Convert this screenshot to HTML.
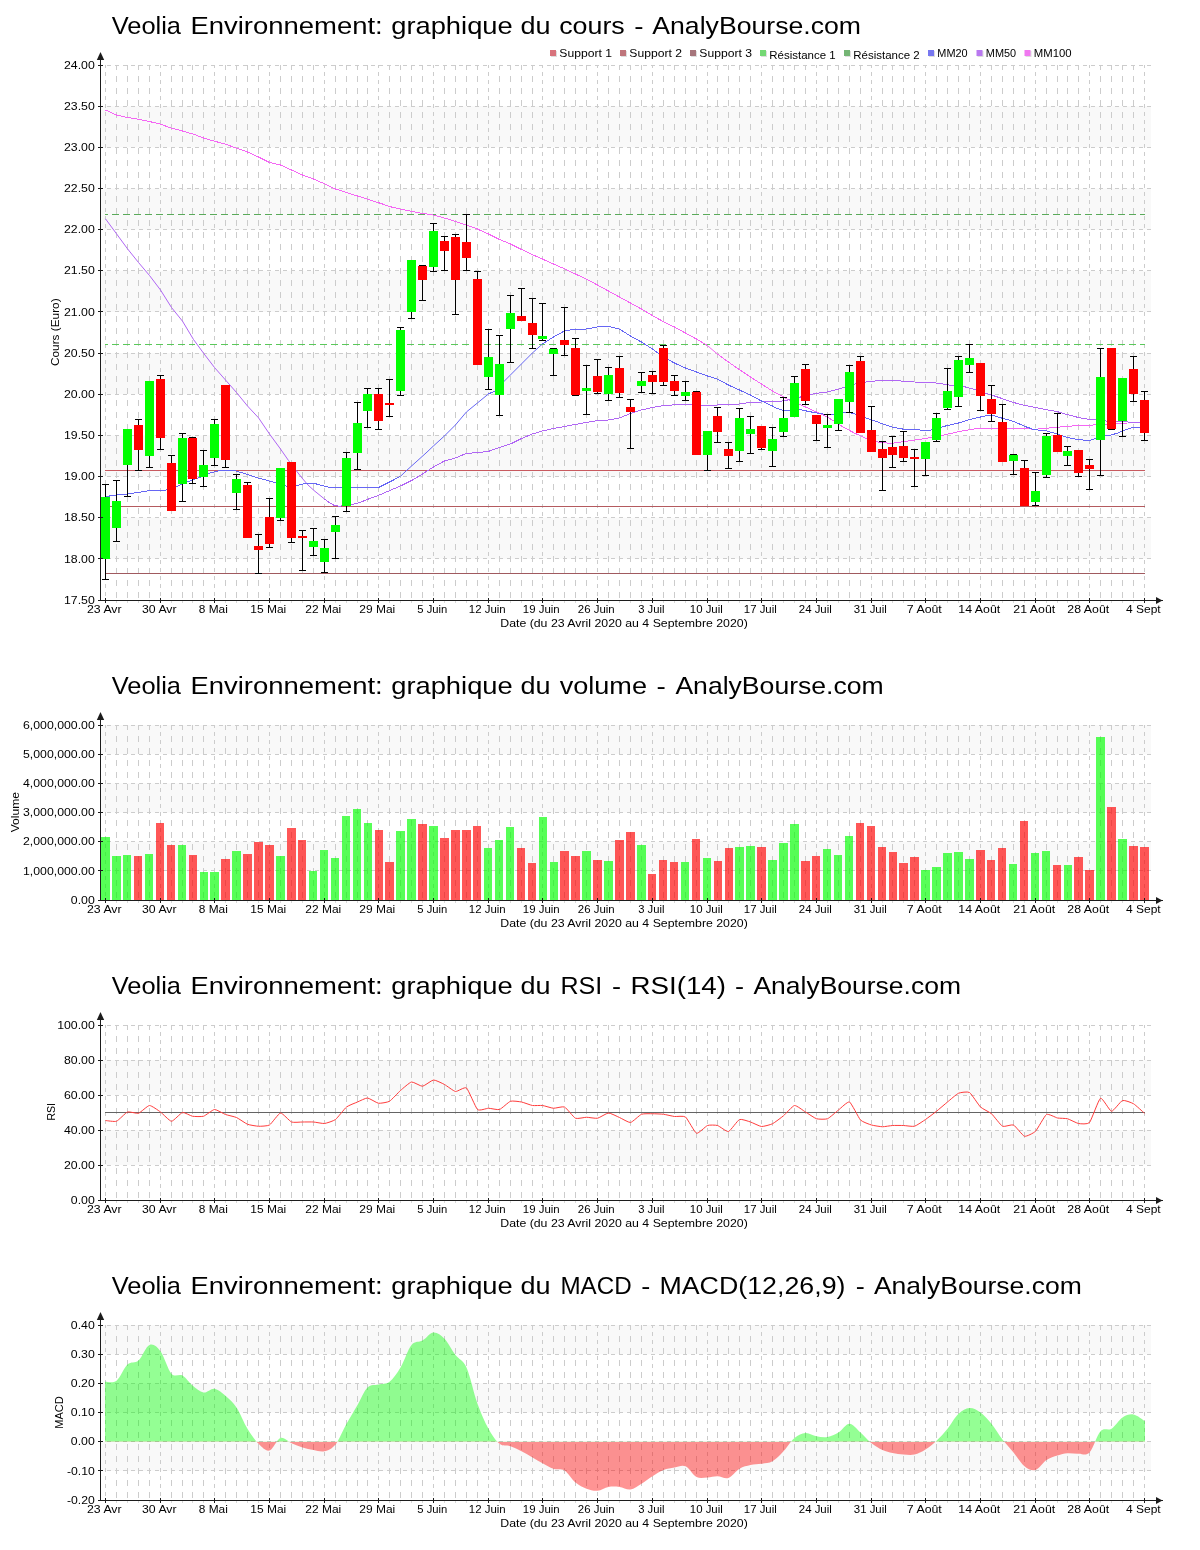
<!DOCTYPE html>
<html lang="fr"><head><meta charset="utf-8"><title>Veolia Environnement - AnalyBourse.com</title>
<style>
html,body{margin:0;padding:0;background:#fff;}
body{width:1200px;height:1550px;overflow:hidden;font-family:"Liberation Sans",sans-serif;}
svg{display:block;will-change:transform;}
</style></head><body>
<svg width="1200" height="1550" viewBox="0 0 1200 1550" font-family="Liberation Sans, sans-serif">
<rect x="0" y="0" width="1200" height="1550" fill="#ffffff"/>
<rect x="101" y="517.69" width="1050" height="41.15" fill="#f9f9f9"/>
<rect x="101" y="435.38" width="1050" height="41.15" fill="#f9f9f9"/>
<rect x="101" y="353.08" width="1050" height="41.15" fill="#f9f9f9"/>
<rect x="101" y="270.77" width="1050" height="41.15" fill="#f9f9f9"/>
<rect x="101" y="188.46" width="1050" height="41.15" fill="#f9f9f9"/>
<rect x="101" y="106.15" width="1050" height="41.15" fill="#f9f9f9"/>
<g shape-rendering="crispEdges" stroke="#cccccc" stroke-width="1" fill="none">
<line x1="107" y1="65.5" x2="1151" y2="65.5" stroke-dasharray="4 4"/>
<line x1="107" y1="106.5" x2="1151" y2="106.5" stroke-dasharray="4 4"/>
<line x1="107" y1="147.5" x2="1151" y2="147.5" stroke-dasharray="4 4"/>
<line x1="107" y1="188.5" x2="1151" y2="188.5" stroke-dasharray="4 4"/>
<line x1="107" y1="229.5" x2="1151" y2="229.5" stroke-dasharray="4 4"/>
<line x1="107" y1="270.5" x2="1151" y2="270.5" stroke-dasharray="4 4"/>
<line x1="107" y1="311.5" x2="1151" y2="311.5" stroke-dasharray="4 4"/>
<line x1="107" y1="353.5" x2="1151" y2="353.5" stroke-dasharray="4 4"/>
<line x1="107" y1="394.5" x2="1151" y2="394.5" stroke-dasharray="4 4"/>
<line x1="107" y1="435.5" x2="1151" y2="435.5" stroke-dasharray="4 4"/>
<line x1="107" y1="476.5" x2="1151" y2="476.5" stroke-dasharray="4 4"/>
<line x1="107" y1="517.5" x2="1151" y2="517.5" stroke-dasharray="4 4"/>
<line x1="107" y1="558.5" x2="1151" y2="558.5" stroke-dasharray="4 4"/>
<line x1="105.5" y1="65" x2="105.5" y2="600" stroke-dasharray="4 4" stroke-dashoffset="1"/>
<line x1="116.5" y1="65" x2="116.5" y2="600" stroke-dasharray="6 6" stroke-dashoffset="1"/>
<line x1="127.5" y1="65" x2="127.5" y2="600" stroke-dasharray="6 6" stroke-dashoffset="1"/>
<line x1="138.5" y1="65" x2="138.5" y2="600" stroke-dasharray="6 6" stroke-dashoffset="1"/>
<line x1="149.5" y1="65" x2="149.5" y2="600" stroke-dasharray="6 6" stroke-dashoffset="1"/>
<line x1="160.5" y1="65" x2="160.5" y2="600" stroke-dasharray="4 4" stroke-dashoffset="1"/>
<line x1="171.5" y1="65" x2="171.5" y2="600" stroke-dasharray="6 6" stroke-dashoffset="1"/>
<line x1="182.5" y1="65" x2="182.5" y2="600" stroke-dasharray="6 6" stroke-dashoffset="1"/>
<line x1="192.5" y1="65" x2="192.5" y2="600" stroke-dasharray="6 6" stroke-dashoffset="1"/>
<line x1="203.5" y1="65" x2="203.5" y2="600" stroke-dasharray="6 6" stroke-dashoffset="1"/>
<line x1="214.5" y1="65" x2="214.5" y2="600" stroke-dasharray="4 4" stroke-dashoffset="1"/>
<line x1="225.5" y1="65" x2="225.5" y2="600" stroke-dasharray="6 6" stroke-dashoffset="1"/>
<line x1="236.5" y1="65" x2="236.5" y2="600" stroke-dasharray="6 6" stroke-dashoffset="1"/>
<line x1="247.5" y1="65" x2="247.5" y2="600" stroke-dasharray="6 6" stroke-dashoffset="1"/>
<line x1="258.5" y1="65" x2="258.5" y2="600" stroke-dasharray="6 6" stroke-dashoffset="1"/>
<line x1="269.5" y1="65" x2="269.5" y2="600" stroke-dasharray="4 4" stroke-dashoffset="1"/>
<line x1="280.5" y1="65" x2="280.5" y2="600" stroke-dasharray="6 6" stroke-dashoffset="1"/>
<line x1="291.5" y1="65" x2="291.5" y2="600" stroke-dasharray="6 6" stroke-dashoffset="1"/>
<line x1="302.5" y1="65" x2="302.5" y2="600" stroke-dasharray="6 6" stroke-dashoffset="1"/>
<line x1="313.5" y1="65" x2="313.5" y2="600" stroke-dasharray="6 6" stroke-dashoffset="1"/>
<line x1="324.5" y1="65" x2="324.5" y2="600" stroke-dasharray="4 4" stroke-dashoffset="1"/>
<line x1="335.5" y1="65" x2="335.5" y2="600" stroke-dasharray="6 6" stroke-dashoffset="1"/>
<line x1="346.5" y1="65" x2="346.5" y2="600" stroke-dasharray="6 6" stroke-dashoffset="1"/>
<line x1="357.5" y1="65" x2="357.5" y2="600" stroke-dasharray="6 6" stroke-dashoffset="1"/>
<line x1="367.5" y1="65" x2="367.5" y2="600" stroke-dasharray="6 6" stroke-dashoffset="1"/>
<line x1="378.5" y1="65" x2="378.5" y2="600" stroke-dasharray="4 4" stroke-dashoffset="1"/>
<line x1="389.5" y1="65" x2="389.5" y2="600" stroke-dasharray="6 6" stroke-dashoffset="1"/>
<line x1="400.5" y1="65" x2="400.5" y2="600" stroke-dasharray="6 6" stroke-dashoffset="1"/>
<line x1="411.5" y1="65" x2="411.5" y2="600" stroke-dasharray="6 6" stroke-dashoffset="1"/>
<line x1="422.5" y1="65" x2="422.5" y2="600" stroke-dasharray="6 6" stroke-dashoffset="1"/>
<line x1="433.5" y1="65" x2="433.5" y2="600" stroke-dasharray="4 4" stroke-dashoffset="1"/>
<line x1="444.5" y1="65" x2="444.5" y2="600" stroke-dasharray="6 6" stroke-dashoffset="1"/>
<line x1="455.5" y1="65" x2="455.5" y2="600" stroke-dasharray="6 6" stroke-dashoffset="1"/>
<line x1="466.5" y1="65" x2="466.5" y2="600" stroke-dasharray="6 6" stroke-dashoffset="1"/>
<line x1="477.5" y1="65" x2="477.5" y2="600" stroke-dasharray="6 6" stroke-dashoffset="1"/>
<line x1="488.5" y1="65" x2="488.5" y2="600" stroke-dasharray="4 4" stroke-dashoffset="1"/>
<line x1="499.5" y1="65" x2="499.5" y2="600" stroke-dasharray="6 6" stroke-dashoffset="1"/>
<line x1="510.5" y1="65" x2="510.5" y2="600" stroke-dasharray="6 6" stroke-dashoffset="1"/>
<line x1="521.5" y1="65" x2="521.5" y2="600" stroke-dasharray="6 6" stroke-dashoffset="1"/>
<line x1="532.5" y1="65" x2="532.5" y2="600" stroke-dasharray="6 6" stroke-dashoffset="1"/>
<line x1="542.5" y1="65" x2="542.5" y2="600" stroke-dasharray="4 4" stroke-dashoffset="1"/>
<line x1="553.5" y1="65" x2="553.5" y2="600" stroke-dasharray="6 6" stroke-dashoffset="1"/>
<line x1="564.5" y1="65" x2="564.5" y2="600" stroke-dasharray="6 6" stroke-dashoffset="1"/>
<line x1="575.5" y1="65" x2="575.5" y2="600" stroke-dasharray="6 6" stroke-dashoffset="1"/>
<line x1="586.5" y1="65" x2="586.5" y2="600" stroke-dasharray="6 6" stroke-dashoffset="1"/>
<line x1="597.5" y1="65" x2="597.5" y2="600" stroke-dasharray="4 4" stroke-dashoffset="1"/>
<line x1="608.5" y1="65" x2="608.5" y2="600" stroke-dasharray="6 6" stroke-dashoffset="1"/>
<line x1="619.5" y1="65" x2="619.5" y2="600" stroke-dasharray="6 6" stroke-dashoffset="1"/>
<line x1="630.5" y1="65" x2="630.5" y2="600" stroke-dasharray="6 6" stroke-dashoffset="1"/>
<line x1="641.5" y1="65" x2="641.5" y2="600" stroke-dasharray="6 6" stroke-dashoffset="1"/>
<line x1="652.5" y1="65" x2="652.5" y2="600" stroke-dasharray="4 4" stroke-dashoffset="1"/>
<line x1="663.5" y1="65" x2="663.5" y2="600" stroke-dasharray="6 6" stroke-dashoffset="1"/>
<line x1="674.5" y1="65" x2="674.5" y2="600" stroke-dasharray="6 6" stroke-dashoffset="1"/>
<line x1="685.5" y1="65" x2="685.5" y2="600" stroke-dasharray="6 6" stroke-dashoffset="1"/>
<line x1="696.5" y1="65" x2="696.5" y2="600" stroke-dasharray="6 6" stroke-dashoffset="1"/>
<line x1="707.5" y1="65" x2="707.5" y2="600" stroke-dasharray="4 4" stroke-dashoffset="1"/>
<line x1="717.5" y1="65" x2="717.5" y2="600" stroke-dasharray="6 6" stroke-dashoffset="1"/>
<line x1="728.5" y1="65" x2="728.5" y2="600" stroke-dasharray="6 6" stroke-dashoffset="1"/>
<line x1="739.5" y1="65" x2="739.5" y2="600" stroke-dasharray="6 6" stroke-dashoffset="1"/>
<line x1="750.5" y1="65" x2="750.5" y2="600" stroke-dasharray="6 6" stroke-dashoffset="1"/>
<line x1="761.5" y1="65" x2="761.5" y2="600" stroke-dasharray="4 4" stroke-dashoffset="1"/>
<line x1="772.5" y1="65" x2="772.5" y2="600" stroke-dasharray="6 6" stroke-dashoffset="1"/>
<line x1="783.5" y1="65" x2="783.5" y2="600" stroke-dasharray="6 6" stroke-dashoffset="1"/>
<line x1="794.5" y1="65" x2="794.5" y2="600" stroke-dasharray="6 6" stroke-dashoffset="1"/>
<line x1="805.5" y1="65" x2="805.5" y2="600" stroke-dasharray="6 6" stroke-dashoffset="1"/>
<line x1="816.5" y1="65" x2="816.5" y2="600" stroke-dasharray="4 4" stroke-dashoffset="1"/>
<line x1="827.5" y1="65" x2="827.5" y2="600" stroke-dasharray="6 6" stroke-dashoffset="1"/>
<line x1="838.5" y1="65" x2="838.5" y2="600" stroke-dasharray="6 6" stroke-dashoffset="1"/>
<line x1="849.5" y1="65" x2="849.5" y2="600" stroke-dasharray="6 6" stroke-dashoffset="1"/>
<line x1="860.5" y1="65" x2="860.5" y2="600" stroke-dasharray="6 6" stroke-dashoffset="1"/>
<line x1="871.5" y1="65" x2="871.5" y2="600" stroke-dasharray="4 4" stroke-dashoffset="1"/>
<line x1="882.5" y1="65" x2="882.5" y2="600" stroke-dasharray="6 6" stroke-dashoffset="1"/>
<line x1="892.5" y1="65" x2="892.5" y2="600" stroke-dasharray="6 6" stroke-dashoffset="1"/>
<line x1="903.5" y1="65" x2="903.5" y2="600" stroke-dasharray="6 6" stroke-dashoffset="1"/>
<line x1="914.5" y1="65" x2="914.5" y2="600" stroke-dasharray="6 6" stroke-dashoffset="1"/>
<line x1="925.5" y1="65" x2="925.5" y2="600" stroke-dasharray="4 4" stroke-dashoffset="1"/>
<line x1="936.5" y1="65" x2="936.5" y2="600" stroke-dasharray="6 6" stroke-dashoffset="1"/>
<line x1="947.5" y1="65" x2="947.5" y2="600" stroke-dasharray="6 6" stroke-dashoffset="1"/>
<line x1="958.5" y1="65" x2="958.5" y2="600" stroke-dasharray="6 6" stroke-dashoffset="1"/>
<line x1="969.5" y1="65" x2="969.5" y2="600" stroke-dasharray="6 6" stroke-dashoffset="1"/>
<line x1="980.5" y1="65" x2="980.5" y2="600" stroke-dasharray="4 4" stroke-dashoffset="1"/>
<line x1="991.5" y1="65" x2="991.5" y2="600" stroke-dasharray="6 6" stroke-dashoffset="1"/>
<line x1="1002.5" y1="65" x2="1002.5" y2="600" stroke-dasharray="6 6" stroke-dashoffset="1"/>
<line x1="1013.5" y1="65" x2="1013.5" y2="600" stroke-dasharray="6 6" stroke-dashoffset="1"/>
<line x1="1024.5" y1="65" x2="1024.5" y2="600" stroke-dasharray="6 6" stroke-dashoffset="1"/>
<line x1="1035.5" y1="65" x2="1035.5" y2="600" stroke-dasharray="4 4" stroke-dashoffset="1"/>
<line x1="1046.5" y1="65" x2="1046.5" y2="600" stroke-dasharray="6 6" stroke-dashoffset="1"/>
<line x1="1057.5" y1="65" x2="1057.5" y2="600" stroke-dasharray="6 6" stroke-dashoffset="1"/>
<line x1="1067.5" y1="65" x2="1067.5" y2="600" stroke-dasharray="6 6" stroke-dashoffset="1"/>
<line x1="1078.5" y1="65" x2="1078.5" y2="600" stroke-dasharray="6 6" stroke-dashoffset="1"/>
<line x1="1089.5" y1="65" x2="1089.5" y2="600" stroke-dasharray="4 4" stroke-dashoffset="1"/>
<line x1="1100.5" y1="65" x2="1100.5" y2="600" stroke-dasharray="6 6" stroke-dashoffset="1"/>
<line x1="1111.5" y1="65" x2="1111.5" y2="600" stroke-dasharray="6 6" stroke-dashoffset="1"/>
<line x1="1122.5" y1="65" x2="1122.5" y2="600" stroke-dasharray="6 6" stroke-dashoffset="1"/>
<line x1="1133.5" y1="65" x2="1133.5" y2="600" stroke-dasharray="6 6" stroke-dashoffset="1"/>
<line x1="1144.5" y1="65" x2="1144.5" y2="600" stroke-dasharray="4 4" stroke-dashoffset="1"/>
</g>
<text x="111.70" y="33.90" font-size="24.4" fill="#000000" textLength="69.30" lengthAdjust="spacingAndGlyphs">Veolia</text>
<text x="190.40" y="33.90" font-size="24.4" fill="#000000" textLength="192.30" lengthAdjust="spacingAndGlyphs">Environnement:</text>
<text x="391.20" y="33.90" font-size="24.4" fill="#000000" textLength="121.55" lengthAdjust="spacingAndGlyphs">graphique</text>
<text x="520.45" y="33.90" font-size="24.4" fill="#000000" textLength="30.05" lengthAdjust="spacingAndGlyphs">du</text>
<text x="559.20" y="33.90" font-size="24.4" fill="#000000" textLength="65.55" lengthAdjust="spacingAndGlyphs">cours</text>
<text x="634.20" y="33.90" font-size="24.4" fill="#000000" textLength="9.30" lengthAdjust="spacingAndGlyphs">-</text>
<text x="652.30" y="33.90" font-size="24.4" fill="#000000" textLength="208.70" lengthAdjust="spacingAndGlyphs">AnalyBourse.com</text>
<text transform="translate(59.3,332.2) rotate(-90)" font-size="11" text-anchor="middle" fill="#000000" textLength="67.67" lengthAdjust="spacingAndGlyphs">Cours (Euro)</text>
<text x="94.80" y="68.70" font-size="11" text-anchor="end" fill="#000000" textLength="30.76" lengthAdjust="spacingAndGlyphs" >24.00</text>
<text x="94.80" y="109.85" font-size="11" text-anchor="end" fill="#000000" textLength="30.76" lengthAdjust="spacingAndGlyphs" >23.50</text>
<text x="94.80" y="151.01" font-size="11" text-anchor="end" fill="#000000" textLength="30.76" lengthAdjust="spacingAndGlyphs" >23.00</text>
<text x="94.80" y="192.16" font-size="11" text-anchor="end" fill="#000000" textLength="30.76" lengthAdjust="spacingAndGlyphs" >22.50</text>
<text x="94.80" y="233.32" font-size="11" text-anchor="end" fill="#000000" textLength="30.76" lengthAdjust="spacingAndGlyphs" >22.00</text>
<text x="94.80" y="274.47" font-size="11" text-anchor="end" fill="#000000" textLength="30.76" lengthAdjust="spacingAndGlyphs" >21.50</text>
<text x="94.80" y="315.62" font-size="11" text-anchor="end" fill="#000000" textLength="30.76" lengthAdjust="spacingAndGlyphs" >21.00</text>
<text x="94.80" y="356.78" font-size="11" text-anchor="end" fill="#000000" textLength="30.76" lengthAdjust="spacingAndGlyphs" >20.50</text>
<text x="94.80" y="397.93" font-size="11" text-anchor="end" fill="#000000" textLength="30.76" lengthAdjust="spacingAndGlyphs" >20.00</text>
<text x="94.80" y="439.08" font-size="11" text-anchor="end" fill="#000000" textLength="30.76" lengthAdjust="spacingAndGlyphs" >19.50</text>
<text x="94.80" y="480.24" font-size="11" text-anchor="end" fill="#000000" textLength="30.76" lengthAdjust="spacingAndGlyphs" >19.00</text>
<text x="94.80" y="521.39" font-size="11" text-anchor="end" fill="#000000" textLength="30.76" lengthAdjust="spacingAndGlyphs" >18.50</text>
<text x="94.80" y="562.55" font-size="11" text-anchor="end" fill="#000000" textLength="30.76" lengthAdjust="spacingAndGlyphs" >18.00</text>
<text x="94.80" y="603.70" font-size="11" text-anchor="end" fill="#000000" textLength="30.76" lengthAdjust="spacingAndGlyphs" >17.50</text>
<text x="104.30" y="612.80" font-size="11" text-anchor="middle" fill="#000000" textLength="34.59" lengthAdjust="spacingAndGlyphs" >23 Avr</text>
<text x="159.30" y="612.80" font-size="11" text-anchor="middle" fill="#000000" textLength="34.59" lengthAdjust="spacingAndGlyphs" >30 Avr</text>
<text x="213.30" y="612.80" font-size="11" text-anchor="middle" fill="#000000" textLength="29.07" lengthAdjust="spacingAndGlyphs" >8 Mai</text>
<text x="268.30" y="612.80" font-size="11" text-anchor="middle" fill="#000000" textLength="35.91" lengthAdjust="spacingAndGlyphs" >15 Mai</text>
<text x="323.30" y="612.80" font-size="11" text-anchor="middle" fill="#000000" textLength="35.91" lengthAdjust="spacingAndGlyphs" >22 Mai</text>
<text x="377.30" y="612.80" font-size="11" text-anchor="middle" fill="#000000" textLength="35.91" lengthAdjust="spacingAndGlyphs" >29 Mai</text>
<text x="432.30" y="612.80" font-size="11" text-anchor="middle" fill="#000000" textLength="30.00" lengthAdjust="spacingAndGlyphs" >5 Juin</text>
<text x="487.30" y="612.80" font-size="11" text-anchor="middle" fill="#000000" textLength="36.84" lengthAdjust="spacingAndGlyphs" >12 Juin</text>
<text x="541.30" y="612.80" font-size="11" text-anchor="middle" fill="#000000" textLength="36.84" lengthAdjust="spacingAndGlyphs" >19 Juin</text>
<text x="596.30" y="612.80" font-size="11" text-anchor="middle" fill="#000000" textLength="36.84" lengthAdjust="spacingAndGlyphs" >26 Juin</text>
<text x="651.30" y="612.80" font-size="11" text-anchor="middle" fill="#000000" textLength="26.18" lengthAdjust="spacingAndGlyphs" >3 Juil</text>
<text x="706.30" y="612.80" font-size="11" text-anchor="middle" fill="#000000" textLength="33.01" lengthAdjust="spacingAndGlyphs" >10 Juil</text>
<text x="760.30" y="612.80" font-size="11" text-anchor="middle" fill="#000000" textLength="33.01" lengthAdjust="spacingAndGlyphs" >17 Juil</text>
<text x="815.30" y="612.80" font-size="11" text-anchor="middle" fill="#000000" textLength="33.01" lengthAdjust="spacingAndGlyphs" >24 Juil</text>
<text x="870.30" y="612.80" font-size="11" text-anchor="middle" fill="#000000" textLength="33.01" lengthAdjust="spacingAndGlyphs" >31 Juil</text>
<text x="924.30" y="612.80" font-size="11" text-anchor="middle" fill="#000000" textLength="35.00" lengthAdjust="spacingAndGlyphs" >7 Août</text>
<text x="979.30" y="612.80" font-size="11" text-anchor="middle" fill="#000000" textLength="41.83" lengthAdjust="spacingAndGlyphs" >14 Août</text>
<text x="1034.30" y="612.80" font-size="11" text-anchor="middle" fill="#000000" textLength="41.83" lengthAdjust="spacingAndGlyphs" >21 Août</text>
<text x="1088.30" y="612.80" font-size="11" text-anchor="middle" fill="#000000" textLength="41.83" lengthAdjust="spacingAndGlyphs" >28 Août</text>
<text x="1143.30" y="612.80" font-size="11" text-anchor="middle" fill="#000000" textLength="34.71" lengthAdjust="spacingAndGlyphs" >4 Sept</text>
<text x="624.00" y="626.80" font-size="11" text-anchor="middle" fill="#000000" textLength="247.50" lengthAdjust="spacingAndGlyphs" >Date (du 23 Avril 2020 au 4 Septembre 2020)</text>
<rect x="551.0" y="51" width="6" height="6" fill="#dedede"/>
<rect x="550.0" y="50" width="6" height="6" fill="#d8737c"/>
<text x="559.30" y="57.00" font-size="11" text-anchor="start" fill="#000000" textLength="52.70" lengthAdjust="spacingAndGlyphs" >Support 1</text>
<rect x="621.0" y="51" width="6" height="6" fill="#dedede"/>
<rect x="620.0" y="50" width="6" height="6" fill="#bf757b"/>
<text x="629.30" y="57.00" font-size="11" text-anchor="start" fill="#000000" textLength="52.70" lengthAdjust="spacingAndGlyphs" >Support 2</text>
<rect x="691.0" y="51" width="6" height="6" fill="#dedede"/>
<rect x="690.0" y="50" width="6" height="6" fill="#a6757b"/>
<text x="699.30" y="57.00" font-size="11" text-anchor="start" fill="#000000" textLength="52.70" lengthAdjust="spacingAndGlyphs" >Support 3</text>
<rect x="761.0" y="51" width="6" height="6" fill="#dedede"/>
<rect x="760.0" y="50" width="6" height="6" fill="#74d874"/>
<text x="769.30" y="58.50" font-size="11" text-anchor="start" fill="#000000" textLength="66.30" lengthAdjust="spacingAndGlyphs" >Résistance 1</text>
<rect x="845.0" y="51" width="6" height="6" fill="#dedede"/>
<rect x="844.0" y="50" width="6" height="6" fill="#74b574"/>
<text x="853.30" y="58.50" font-size="11" text-anchor="start" fill="#000000" textLength="66.30" lengthAdjust="spacingAndGlyphs" >Résistance 2</text>
<rect x="929.0" y="51" width="6" height="6" fill="#dedede"/>
<rect x="928.0" y="50" width="6" height="6" fill="#7878f0"/>
<text x="937.30" y="57.00" font-size="11" text-anchor="start" fill="#000000" textLength="30.30" lengthAdjust="spacingAndGlyphs" >MM20</text>
<rect x="977.5" y="51" width="6" height="6" fill="#dedede"/>
<rect x="976.5" y="50" width="6" height="6" fill="#b978f0"/>
<text x="985.80" y="57.00" font-size="11" text-anchor="start" fill="#000000" textLength="30.30" lengthAdjust="spacingAndGlyphs" >MM50</text>
<rect x="1025.5" y="51" width="6" height="6" fill="#dedede"/>
<rect x="1024.5" y="50" width="6" height="6" fill="#f078f0"/>
<text x="1033.80" y="57.00" font-size="11" text-anchor="start" fill="#000000" textLength="37.80" lengthAdjust="spacingAndGlyphs" >MM100</text>
<g shape-rendering="crispEdges" stroke-width="1" fill="none">
<line x1="105" y1="470.5" x2="1145" y2="470.5" stroke="#c85a5f"/>
<line x1="105" y1="506.5" x2="1145" y2="506.5" stroke="#b45a5f"/>
<line x1="105" y1="573.5" x2="1145" y2="573.5" stroke="#a05a5f"/>
<line x1="105" y1="214.5" x2="1145" y2="214.5" stroke="#5aaa5a" stroke-dasharray="6.937 4" stroke-dashoffset="3.937"/>
<line x1="105" y1="344.5" x2="1145" y2="344.5" stroke="#5ac85a" stroke-dasharray="6.937 4" stroke-dashoffset="3.937"/>
</g>
<polyline fill="none" stroke="#f466f4" stroke-width="1.0" stroke-linejoin="round" shape-rendering="crispEdges" points="105.5,110.0 116.5,115.0 127.5,117.5 138.5,119.2 149.5,121.5 160.5,124.2 171.5,128.2 182.5,131.0 193.5,134.2 204.0,138.2 214.5,141.2 225.5,144.2 236.5,148.2 247.5,152.0 258.5,157.0 269.5,162.5 280.5,165.0 291.5,170.0 302.5,175.0 313.5,179.0 324.5,183.8 335.5,189.0 346.5,192.5 357.5,196.0 368.5,199.5 379.5,203.0 390.5,206.8 400.4,209.0 411.4,211.2 422.4,213.4 433.4,215.0 444.4,218.0 455.4,221.4 466.4,225.0 477.4,229.0 488.4,234.0 499.4,239.4 510.4,244.0 521.4,249.4 532.4,254.6 542.4,259.0 553.4,264.0 564.0,268.6 575.4,274.0 588.0,280.0 597.4,285.0 608.4,291.0 619.4,297.0 630.4,303.0 641.4,309.0 652.4,315.6 663.4,321.6 674.4,327.0 685.4,333.0 696.4,339.0 707.4,345.6"/>
<polyline fill="none" stroke="#f466f4" stroke-width="1.0" stroke-linejoin="round"  points="707.4,345.6 717.4,354.0"/>
<polyline fill="none" stroke="#f466f4" stroke-width="1.0" stroke-linejoin="round" shape-rendering="crispEdges" points="717.4,354.0 728.4,362.0 739.4,369.6 750.4,377.0 761.4,384.0 772.4,391.0 783.3,396.7 788.5,399.7 799.3,404.2 805.5,407.0 816.5,412.0 827.3,417.0 833.5,420.8 842.7,426.7 849.3,430.3 854.3,433.0 866.0,438.3 877.7,442.0 882.3,442.7 892.3,443.3 897.7,442.5 909.3,440.8 917.7,439.7 931.0,437.5 942.7,435.3 947.5,434.2 958.5,431.7 969.3,429.7 976.0,428.7 986.0,428.7 1002.5,428.3 1024.5,428.7 1035.5,429.2 1046.5,428.3 1057.5,427.2 1067.5,426.3 1078.5,425.5 1089.5,425.3 1096.0,424.7 1116.8,423.7 1127.7,423.0 1139.3,422.5 1144.5,422.3"/>
<polyline fill="none" stroke="#b066f4" stroke-width="1.0" stroke-linejoin="round"  points="105.5,218.8 116.5,233.8 127.5,248.8 138.5,262.5 149.5,275.5 160.5,290.0 171.5,307.5 182.5,321.2 193.5,339.5 204.0,353.8 214.5,367.5 225.5,380.0 236.5,392.5 247.5,406.0 258.5,417.8 269.5,434.0 280.5,449.0 288.5,460.5 296.5,471.0 302.0,478.0 308.0,485.0 314.0,490.5 324.5,499.0"/>
<polyline fill="none" stroke="#b066f4" stroke-width="1.0" stroke-linejoin="round" shape-rendering="crispEdges" points="324.5,499.0 330.0,503.0 335.0,505.8 340.0,506.2 352.0,504.5 360.0,502.5 366.8,499.6 378.5,495.4 389.4,490.7 400.4,486.0 411.4,480.6 422.4,474.0 433.4,467.0 444.4,461.0 455.4,458.0 466.4,453.4 477.4,452.6 488.4,451.4 499.4,447.4 510.4,444.0 521.4,438.6 532.4,434.0 542.4,431.0 553.4,428.4 564.0,426.6 575.4,424.4 586.4,422.4 597.4,420.6 608.4,420.0 619.4,418.0 630.4,413.6 641.4,410.0 652.4,407.4 663.4,405.6 674.4,404.8 685.4,404.4 696.4,404.6 707.4,405.6 717.4,405.0 728.4,404.6 739.4,404.0 750.4,402.4 761.4,402.0 772.4,401.6 776.0,402.0 783.3,400.8 789.3,399.7 810.2,394.7 816.5,393.3 827.3,392.0 838.3,389.2 844.3,387.2 854.3,384.2 866.0,382.0 871.3,381.3 882.3,380.3 892.3,380.3 903.5,381.2 914.3,382.0 925.5,382.2 936.3,383.0 947.5,384.7 952.7,385.8 964.3,386.7 969.3,388.0 976.0,389.7 986.0,393.3 991.5,395.0 1002.5,398.7 1013.5,402.5 1024.5,405.3 1035.5,407.5 1046.5,409.7 1057.5,411.7 1067.5,414.7 1078.5,417.5 1089.5,419.5 1096.0,420.0 1106.0,421.0 1116.8,421.7 1127.7,422.0 1139.3,422.0 1144.5,422.0"/>
<polyline fill="none" stroke="#6666f4" stroke-width="1.0" stroke-linejoin="round" shape-rendering="crispEdges" points="105.4,496.6 116.4,495.0 127.4,494.0 138.4,492.4 149.4,490.6 166.0,490.0 176.0,487.0 182.4,484.0 192.4,480.0 203.4,476.0 210.0,473.0 218.0,471.0 226.0,470.2 236.0,471.0 247.4,474.4 258.4,478.0 269.4,481.0 276.0,483.0 286.0,486.0 296.0,486.0 301.8,484.2 307.7,483.3 314.3,483.3 321.0,485.4 330.2,487.5 341.0,487.7 352.7,487.5 378.5,487.5 387.7,482.9 392.7,480.4 400.4,476.4"/>
<polyline fill="none" stroke="#6666f4" stroke-width="1.0" stroke-linejoin="round"  points="400.4,476.4 406.0,471.0 426.0,453.0 433.4,446.0 444.4,436.0 455.4,425.0 466.4,412.0 477.4,403.0 488.4,394.0"/>
<polyline fill="none" stroke="#6666f4" stroke-width="1.0" stroke-linejoin="round" shape-rendering="crispEdges" points="488.4,394.0 495.0,391.0"/>
<polyline fill="none" stroke="#6666f4" stroke-width="1.0" stroke-linejoin="round"  points="495.0,391.0 499.4,386.0 510.4,375.0 521.4,364.0 532.4,353.0 542.4,344.0"/>
<polyline fill="none" stroke="#6666f4" stroke-width="1.0" stroke-linejoin="round" shape-rendering="crispEdges" points="542.4,344.0 553.4,337.0 564.4,331.0 575.4,329.0 586.4,329.0 597.4,327.0 608.4,326.4 619.4,329.0 630.4,336.0 641.4,342.0 652.4,349.0 663.4,357.0 674.4,363.0 685.4,368.0 696.4,372.0 707.4,376.0 717.4,379.0 728.4,385.0 739.4,390.0 750.4,395.0 761.4,401.0 772.4,406.0 776.0,408.0 783.3,410.5 788.0,410.5 799.3,409.2 805.5,410.8 816.5,413.0 827.3,414.7 832.7,414.7 844.3,412.5 849.3,412.5 854.3,413.7 866.0,418.0 871.3,419.7 882.3,423.7 892.3,427.0 903.5,429.2 914.3,429.7 925.5,430.3 931.0,430.0 942.7,426.7 947.5,425.5 958.5,423.0 969.3,419.7 976.0,418.0 986.0,415.8 991.5,415.0 1002.5,418.3 1013.5,421.3 1024.5,426.3 1034.3,429.7 1046.5,430.8 1057.5,434.2 1067.5,437.5 1078.5,439.7 1089.5,440.5 1095.2,438.7 1106.0,435.8 1111.5,435.0 1117.7,433.0 1122.5,430.8 1132.7,427.5 1139.3,427.5 1144.5,427.5"/>
<g shape-rendering="crispEdges">
<rect x="105" y="484" width="1" height="13" fill="#000"/>
<rect x="102" y="484" width="7" height="1" fill="#000"/>
<rect x="105" y="559" width="1" height="21" fill="#000"/>
<rect x="102" y="579" width="7" height="1" fill="#000"/>
<rect x="101" y="497" width="9" height="62" fill="#00ff00"/>
<rect x="116" y="480" width="1" height="21" fill="#000"/>
<rect x="113" y="480" width="7" height="1" fill="#000"/>
<rect x="116" y="528" width="1" height="14" fill="#000"/>
<rect x="113" y="541" width="7" height="1" fill="#000"/>
<rect x="112" y="501" width="9" height="27" fill="#00ff00"/>
<rect x="127" y="465" width="1" height="32" fill="#000"/>
<rect x="124" y="496" width="7" height="1" fill="#000"/>
<rect x="123" y="429" width="9" height="36" fill="#00ff00"/>
<rect x="138" y="419" width="1" height="6" fill="#000"/>
<rect x="135" y="419" width="7" height="1" fill="#000"/>
<rect x="138" y="450" width="1" height="21" fill="#000"/>
<rect x="135" y="470" width="7" height="1" fill="#000"/>
<rect x="134" y="425" width="9" height="25" fill="#ff0000"/>
<rect x="149" y="456" width="1" height="12" fill="#000"/>
<rect x="146" y="467" width="7" height="1" fill="#000"/>
<rect x="145" y="381" width="9" height="75" fill="#00ff00"/>
<rect x="160" y="375" width="1" height="4" fill="#000"/>
<rect x="157" y="375" width="7" height="1" fill="#000"/>
<rect x="160" y="438" width="1" height="12" fill="#000"/>
<rect x="157" y="449" width="7" height="1" fill="#000"/>
<rect x="156" y="379" width="9" height="59" fill="#ff0000"/>
<rect x="171" y="455" width="1" height="8" fill="#000"/>
<rect x="168" y="455" width="7" height="1" fill="#000"/>
<rect x="167" y="463" width="9" height="48" fill="#ff0000"/>
<rect x="182" y="433" width="1" height="5" fill="#000"/>
<rect x="179" y="433" width="7" height="1" fill="#000"/>
<rect x="182" y="484" width="1" height="18" fill="#000"/>
<rect x="179" y="501" width="7" height="1" fill="#000"/>
<rect x="178" y="438" width="9" height="46" fill="#00ff00"/>
<rect x="192" y="437" width="1" height="1" fill="#000"/>
<rect x="189" y="437" width="7" height="1" fill="#000"/>
<rect x="192" y="479" width="1" height="5" fill="#000"/>
<rect x="189" y="483" width="7" height="1" fill="#000"/>
<rect x="188" y="438" width="9" height="41" fill="#ff0000"/>
<rect x="203" y="450" width="1" height="15" fill="#000"/>
<rect x="200" y="450" width="7" height="1" fill="#000"/>
<rect x="203" y="477" width="1" height="10" fill="#000"/>
<rect x="200" y="486" width="7" height="1" fill="#000"/>
<rect x="199" y="465" width="9" height="12" fill="#00ff00"/>
<rect x="214" y="419" width="1" height="5" fill="#000"/>
<rect x="211" y="419" width="7" height="1" fill="#000"/>
<rect x="214" y="458" width="1" height="8" fill="#000"/>
<rect x="211" y="465" width="7" height="1" fill="#000"/>
<rect x="210" y="424" width="9" height="34" fill="#00ff00"/>
<rect x="225" y="460" width="1" height="8" fill="#000"/>
<rect x="222" y="467" width="7" height="1" fill="#000"/>
<rect x="221" y="385" width="9" height="75" fill="#ff0000"/>
<rect x="236" y="474" width="1" height="5" fill="#000"/>
<rect x="233" y="474" width="7" height="1" fill="#000"/>
<rect x="236" y="493" width="1" height="17" fill="#000"/>
<rect x="233" y="509" width="7" height="1" fill="#000"/>
<rect x="232" y="479" width="9" height="14" fill="#00ff00"/>
<rect x="247" y="482" width="1" height="3" fill="#000"/>
<rect x="244" y="482" width="7" height="1" fill="#000"/>
<rect x="243" y="485" width="9" height="53" fill="#ff0000"/>
<rect x="258" y="534" width="1" height="12" fill="#000"/>
<rect x="255" y="534" width="7" height="1" fill="#000"/>
<rect x="258" y="550" width="1" height="24" fill="#000"/>
<rect x="255" y="573" width="7" height="1" fill="#000"/>
<rect x="254" y="546" width="9" height="4" fill="#ff0000"/>
<rect x="269" y="498" width="1" height="19" fill="#000"/>
<rect x="266" y="498" width="7" height="1" fill="#000"/>
<rect x="269" y="544" width="1" height="4" fill="#000"/>
<rect x="266" y="547" width="7" height="1" fill="#000"/>
<rect x="265" y="517" width="9" height="27" fill="#ff0000"/>
<rect x="280" y="518" width="1" height="3" fill="#000"/>
<rect x="277" y="520" width="7" height="1" fill="#000"/>
<rect x="276" y="468" width="9" height="50" fill="#00ff00"/>
<rect x="291" y="538" width="1" height="5" fill="#000"/>
<rect x="288" y="542" width="7" height="1" fill="#000"/>
<rect x="287" y="462" width="9" height="76" fill="#ff0000"/>
<rect x="302" y="530" width="1" height="6" fill="#000"/>
<rect x="299" y="530" width="7" height="1" fill="#000"/>
<rect x="302" y="538" width="1" height="33" fill="#000"/>
<rect x="299" y="570" width="7" height="1" fill="#000"/>
<rect x="298" y="536" width="9" height="2" fill="#ff0000"/>
<rect x="313" y="528" width="1" height="13" fill="#000"/>
<rect x="310" y="528" width="7" height="1" fill="#000"/>
<rect x="313" y="547" width="1" height="9" fill="#000"/>
<rect x="310" y="555" width="7" height="1" fill="#000"/>
<rect x="309" y="541" width="9" height="6" fill="#00ff00"/>
<rect x="324" y="539" width="1" height="9" fill="#000"/>
<rect x="321" y="539" width="7" height="1" fill="#000"/>
<rect x="324" y="562" width="1" height="11" fill="#000"/>
<rect x="321" y="572" width="7" height="1" fill="#000"/>
<rect x="320" y="548" width="9" height="14" fill="#00ff00"/>
<rect x="335" y="516" width="1" height="9" fill="#000"/>
<rect x="332" y="516" width="7" height="1" fill="#000"/>
<rect x="335" y="532" width="1" height="27" fill="#000"/>
<rect x="332" y="558" width="7" height="1" fill="#000"/>
<rect x="331" y="525" width="9" height="7" fill="#00ff00"/>
<rect x="346" y="452" width="1" height="6" fill="#000"/>
<rect x="343" y="452" width="7" height="1" fill="#000"/>
<rect x="346" y="506" width="1" height="6" fill="#000"/>
<rect x="343" y="511" width="7" height="1" fill="#000"/>
<rect x="342" y="458" width="9" height="48" fill="#00ff00"/>
<rect x="357" y="402" width="1" height="21" fill="#000"/>
<rect x="354" y="402" width="7" height="1" fill="#000"/>
<rect x="357" y="453" width="1" height="17" fill="#000"/>
<rect x="354" y="469" width="7" height="1" fill="#000"/>
<rect x="353" y="423" width="9" height="30" fill="#00ff00"/>
<rect x="367" y="388" width="1" height="6" fill="#000"/>
<rect x="364" y="388" width="7" height="1" fill="#000"/>
<rect x="367" y="411" width="1" height="17" fill="#000"/>
<rect x="364" y="427" width="7" height="1" fill="#000"/>
<rect x="363" y="394" width="9" height="17" fill="#00ff00"/>
<rect x="378" y="388" width="1" height="6" fill="#000"/>
<rect x="375" y="388" width="7" height="1" fill="#000"/>
<rect x="378" y="421" width="1" height="9" fill="#000"/>
<rect x="375" y="429" width="7" height="1" fill="#000"/>
<rect x="374" y="394" width="9" height="27" fill="#ff0000"/>
<rect x="389" y="379" width="1" height="24" fill="#000"/>
<rect x="386" y="379" width="7" height="1" fill="#000"/>
<rect x="389" y="405" width="1" height="12" fill="#000"/>
<rect x="386" y="416" width="7" height="1" fill="#000"/>
<rect x="385" y="403" width="9" height="2" fill="#ff0000"/>
<rect x="400" y="327" width="1" height="3" fill="#000"/>
<rect x="397" y="327" width="7" height="1" fill="#000"/>
<rect x="400" y="391" width="1" height="5" fill="#000"/>
<rect x="397" y="395" width="7" height="1" fill="#000"/>
<rect x="396" y="330" width="9" height="61" fill="#00ff00"/>
<rect x="411" y="312" width="1" height="7" fill="#000"/>
<rect x="408" y="318" width="7" height="1" fill="#000"/>
<rect x="407" y="260" width="9" height="52" fill="#00ff00"/>
<rect x="422" y="265" width="1" height="1" fill="#000"/>
<rect x="419" y="265" width="7" height="1" fill="#000"/>
<rect x="422" y="280" width="1" height="21" fill="#000"/>
<rect x="419" y="300" width="7" height="1" fill="#000"/>
<rect x="418" y="266" width="9" height="14" fill="#ff0000"/>
<rect x="433" y="223" width="1" height="8" fill="#000"/>
<rect x="430" y="223" width="7" height="1" fill="#000"/>
<rect x="433" y="267" width="1" height="5" fill="#000"/>
<rect x="430" y="271" width="7" height="1" fill="#000"/>
<rect x="429" y="231" width="9" height="36" fill="#00ff00"/>
<rect x="444" y="236" width="1" height="5" fill="#000"/>
<rect x="441" y="236" width="7" height="1" fill="#000"/>
<rect x="444" y="251" width="1" height="20" fill="#000"/>
<rect x="441" y="270" width="7" height="1" fill="#000"/>
<rect x="440" y="241" width="9" height="10" fill="#ff0000"/>
<rect x="455" y="234" width="1" height="3" fill="#000"/>
<rect x="452" y="234" width="7" height="1" fill="#000"/>
<rect x="455" y="280" width="1" height="35" fill="#000"/>
<rect x="452" y="314" width="7" height="1" fill="#000"/>
<rect x="451" y="237" width="9" height="43" fill="#ff0000"/>
<rect x="466" y="214" width="1" height="28" fill="#000"/>
<rect x="463" y="214" width="7" height="1" fill="#000"/>
<rect x="466" y="258" width="1" height="13" fill="#000"/>
<rect x="463" y="270" width="7" height="1" fill="#000"/>
<rect x="462" y="242" width="9" height="16" fill="#ff0000"/>
<rect x="477" y="271" width="1" height="8" fill="#000"/>
<rect x="474" y="271" width="7" height="1" fill="#000"/>
<rect x="473" y="279" width="9" height="86" fill="#ff0000"/>
<rect x="488" y="329" width="1" height="28" fill="#000"/>
<rect x="485" y="329" width="7" height="1" fill="#000"/>
<rect x="488" y="377" width="1" height="13" fill="#000"/>
<rect x="485" y="389" width="7" height="1" fill="#000"/>
<rect x="484" y="357" width="9" height="20" fill="#00ff00"/>
<rect x="499" y="335" width="1" height="29" fill="#000"/>
<rect x="496" y="335" width="7" height="1" fill="#000"/>
<rect x="499" y="395" width="1" height="21" fill="#000"/>
<rect x="496" y="415" width="7" height="1" fill="#000"/>
<rect x="495" y="364" width="9" height="31" fill="#00ff00"/>
<rect x="510" y="295" width="1" height="18" fill="#000"/>
<rect x="507" y="295" width="7" height="1" fill="#000"/>
<rect x="510" y="329" width="1" height="34" fill="#000"/>
<rect x="507" y="362" width="7" height="1" fill="#000"/>
<rect x="506" y="313" width="9" height="16" fill="#00ff00"/>
<rect x="521" y="288" width="1" height="28" fill="#000"/>
<rect x="518" y="288" width="7" height="1" fill="#000"/>
<rect x="517" y="316" width="9" height="5" fill="#ff0000"/>
<rect x="532" y="298" width="1" height="25" fill="#000"/>
<rect x="529" y="298" width="7" height="1" fill="#000"/>
<rect x="532" y="335" width="1" height="14" fill="#000"/>
<rect x="529" y="348" width="7" height="1" fill="#000"/>
<rect x="528" y="323" width="9" height="12" fill="#ff0000"/>
<rect x="542" y="303" width="1" height="33" fill="#000"/>
<rect x="539" y="303" width="7" height="1" fill="#000"/>
<rect x="542" y="339" width="1" height="2" fill="#000"/>
<rect x="539" y="340" width="7" height="1" fill="#000"/>
<rect x="538" y="336" width="9" height="3" fill="#00ff00"/>
<rect x="553" y="348" width="1" height="1" fill="#000"/>
<rect x="550" y="348" width="7" height="1" fill="#000"/>
<rect x="553" y="354" width="1" height="22" fill="#000"/>
<rect x="550" y="375" width="7" height="1" fill="#000"/>
<rect x="549" y="349" width="9" height="5" fill="#00ff00"/>
<rect x="564" y="307" width="1" height="33" fill="#000"/>
<rect x="561" y="307" width="7" height="1" fill="#000"/>
<rect x="564" y="345" width="1" height="11" fill="#000"/>
<rect x="561" y="355" width="7" height="1" fill="#000"/>
<rect x="560" y="340" width="9" height="5" fill="#ff0000"/>
<rect x="575" y="338" width="1" height="10" fill="#000"/>
<rect x="572" y="338" width="7" height="1" fill="#000"/>
<rect x="575" y="395" width="1" height="1" fill="#000"/>
<rect x="572" y="395" width="7" height="1" fill="#000"/>
<rect x="571" y="348" width="9" height="47" fill="#ff0000"/>
<rect x="586" y="365" width="1" height="23" fill="#000"/>
<rect x="583" y="365" width="7" height="1" fill="#000"/>
<rect x="586" y="391" width="1" height="24" fill="#000"/>
<rect x="583" y="414" width="7" height="1" fill="#000"/>
<rect x="582" y="388" width="9" height="3" fill="#00ff00"/>
<rect x="597" y="359" width="1" height="17" fill="#000"/>
<rect x="594" y="359" width="7" height="1" fill="#000"/>
<rect x="597" y="392" width="1" height="2" fill="#000"/>
<rect x="594" y="393" width="7" height="1" fill="#000"/>
<rect x="593" y="376" width="9" height="16" fill="#ff0000"/>
<rect x="608" y="367" width="1" height="8" fill="#000"/>
<rect x="605" y="367" width="7" height="1" fill="#000"/>
<rect x="608" y="394" width="1" height="7" fill="#000"/>
<rect x="605" y="400" width="7" height="1" fill="#000"/>
<rect x="604" y="375" width="9" height="19" fill="#00ff00"/>
<rect x="619" y="356" width="1" height="12" fill="#000"/>
<rect x="616" y="356" width="7" height="1" fill="#000"/>
<rect x="619" y="393" width="1" height="5" fill="#000"/>
<rect x="616" y="397" width="7" height="1" fill="#000"/>
<rect x="615" y="368" width="9" height="25" fill="#ff0000"/>
<rect x="630" y="399" width="1" height="8" fill="#000"/>
<rect x="627" y="399" width="7" height="1" fill="#000"/>
<rect x="630" y="412" width="1" height="37" fill="#000"/>
<rect x="627" y="448" width="7" height="1" fill="#000"/>
<rect x="626" y="407" width="9" height="5" fill="#ff0000"/>
<rect x="641" y="372" width="1" height="9" fill="#000"/>
<rect x="638" y="372" width="7" height="1" fill="#000"/>
<rect x="641" y="386" width="1" height="7" fill="#000"/>
<rect x="638" y="392" width="7" height="1" fill="#000"/>
<rect x="637" y="381" width="9" height="5" fill="#00ff00"/>
<rect x="652" y="371" width="1" height="4" fill="#000"/>
<rect x="649" y="371" width="7" height="1" fill="#000"/>
<rect x="652" y="382" width="1" height="12" fill="#000"/>
<rect x="649" y="393" width="7" height="1" fill="#000"/>
<rect x="648" y="375" width="9" height="7" fill="#ff0000"/>
<rect x="663" y="345" width="1" height="3" fill="#000"/>
<rect x="660" y="345" width="7" height="1" fill="#000"/>
<rect x="663" y="382" width="1" height="4" fill="#000"/>
<rect x="660" y="385" width="7" height="1" fill="#000"/>
<rect x="659" y="348" width="9" height="34" fill="#ff0000"/>
<rect x="674" y="375" width="1" height="6" fill="#000"/>
<rect x="671" y="375" width="7" height="1" fill="#000"/>
<rect x="674" y="391" width="1" height="5" fill="#000"/>
<rect x="671" y="395" width="7" height="1" fill="#000"/>
<rect x="670" y="381" width="9" height="10" fill="#ff0000"/>
<rect x="685" y="381" width="1" height="11" fill="#000"/>
<rect x="682" y="381" width="7" height="1" fill="#000"/>
<rect x="685" y="396" width="1" height="5" fill="#000"/>
<rect x="682" y="400" width="7" height="1" fill="#000"/>
<rect x="681" y="392" width="9" height="4" fill="#00ff00"/>
<rect x="696" y="391" width="1" height="1" fill="#000"/>
<rect x="693" y="391" width="7" height="1" fill="#000"/>
<rect x="692" y="392" width="9" height="63" fill="#ff0000"/>
<rect x="707" y="455" width="1" height="16" fill="#000"/>
<rect x="704" y="470" width="7" height="1" fill="#000"/>
<rect x="703" y="431" width="9" height="24" fill="#00ff00"/>
<rect x="717" y="407" width="1" height="9" fill="#000"/>
<rect x="714" y="407" width="7" height="1" fill="#000"/>
<rect x="717" y="432" width="1" height="11" fill="#000"/>
<rect x="714" y="442" width="7" height="1" fill="#000"/>
<rect x="713" y="416" width="9" height="16" fill="#ff0000"/>
<rect x="728" y="442" width="1" height="7" fill="#000"/>
<rect x="725" y="442" width="7" height="1" fill="#000"/>
<rect x="728" y="456" width="1" height="13" fill="#000"/>
<rect x="725" y="468" width="7" height="1" fill="#000"/>
<rect x="724" y="449" width="9" height="7" fill="#ff0000"/>
<rect x="739" y="408" width="1" height="10" fill="#000"/>
<rect x="736" y="408" width="7" height="1" fill="#000"/>
<rect x="739" y="451" width="1" height="11" fill="#000"/>
<rect x="736" y="461" width="7" height="1" fill="#000"/>
<rect x="735" y="418" width="9" height="33" fill="#00ff00"/>
<rect x="750" y="416" width="1" height="13" fill="#000"/>
<rect x="747" y="416" width="7" height="1" fill="#000"/>
<rect x="750" y="434" width="1" height="20" fill="#000"/>
<rect x="747" y="453" width="7" height="1" fill="#000"/>
<rect x="746" y="429" width="9" height="5" fill="#00ff00"/>
<rect x="761" y="448" width="1" height="2" fill="#000"/>
<rect x="758" y="449" width="7" height="1" fill="#000"/>
<rect x="757" y="426" width="9" height="22" fill="#ff0000"/>
<rect x="772" y="427" width="1" height="12" fill="#000"/>
<rect x="769" y="427" width="7" height="1" fill="#000"/>
<rect x="772" y="451" width="1" height="16" fill="#000"/>
<rect x="769" y="466" width="7" height="1" fill="#000"/>
<rect x="768" y="439" width="9" height="12" fill="#00ff00"/>
<rect x="783" y="397" width="1" height="21" fill="#000"/>
<rect x="780" y="397" width="7" height="1" fill="#000"/>
<rect x="783" y="432" width="1" height="5" fill="#000"/>
<rect x="780" y="436" width="7" height="1" fill="#000"/>
<rect x="779" y="418" width="9" height="14" fill="#00ff00"/>
<rect x="794" y="376" width="1" height="7" fill="#000"/>
<rect x="791" y="376" width="7" height="1" fill="#000"/>
<rect x="790" y="383" width="9" height="34" fill="#00ff00"/>
<rect x="805" y="364" width="1" height="5" fill="#000"/>
<rect x="802" y="364" width="7" height="1" fill="#000"/>
<rect x="805" y="401" width="1" height="4" fill="#000"/>
<rect x="802" y="404" width="7" height="1" fill="#000"/>
<rect x="801" y="369" width="9" height="32" fill="#ff0000"/>
<rect x="816" y="424" width="1" height="17" fill="#000"/>
<rect x="813" y="440" width="7" height="1" fill="#000"/>
<rect x="812" y="415" width="9" height="9" fill="#ff0000"/>
<rect x="827" y="414" width="1" height="11" fill="#000"/>
<rect x="824" y="414" width="7" height="1" fill="#000"/>
<rect x="827" y="428" width="1" height="20" fill="#000"/>
<rect x="824" y="447" width="7" height="1" fill="#000"/>
<rect x="823" y="425" width="9" height="3" fill="#00ff00"/>
<rect x="838" y="424" width="1" height="7" fill="#000"/>
<rect x="835" y="430" width="7" height="1" fill="#000"/>
<rect x="834" y="399" width="9" height="25" fill="#00ff00"/>
<rect x="849" y="365" width="1" height="7" fill="#000"/>
<rect x="846" y="365" width="7" height="1" fill="#000"/>
<rect x="849" y="402" width="1" height="11" fill="#000"/>
<rect x="846" y="412" width="7" height="1" fill="#000"/>
<rect x="845" y="372" width="9" height="30" fill="#00ff00"/>
<rect x="860" y="356" width="1" height="5" fill="#000"/>
<rect x="857" y="356" width="7" height="1" fill="#000"/>
<rect x="856" y="361" width="9" height="72" fill="#ff0000"/>
<rect x="871" y="406" width="1" height="24" fill="#000"/>
<rect x="868" y="406" width="7" height="1" fill="#000"/>
<rect x="867" y="430" width="9" height="22" fill="#ff0000"/>
<rect x="882" y="441" width="1" height="8" fill="#000"/>
<rect x="879" y="441" width="7" height="1" fill="#000"/>
<rect x="882" y="458" width="1" height="33" fill="#000"/>
<rect x="879" y="490" width="7" height="1" fill="#000"/>
<rect x="878" y="449" width="9" height="9" fill="#ff0000"/>
<rect x="892" y="436" width="1" height="11" fill="#000"/>
<rect x="889" y="436" width="7" height="1" fill="#000"/>
<rect x="892" y="455" width="1" height="13" fill="#000"/>
<rect x="889" y="467" width="7" height="1" fill="#000"/>
<rect x="888" y="447" width="9" height="8" fill="#ff0000"/>
<rect x="903" y="431" width="1" height="15" fill="#000"/>
<rect x="900" y="431" width="7" height="1" fill="#000"/>
<rect x="903" y="458" width="1" height="4" fill="#000"/>
<rect x="900" y="461" width="7" height="1" fill="#000"/>
<rect x="899" y="446" width="9" height="12" fill="#ff0000"/>
<rect x="914" y="449" width="1" height="8" fill="#000"/>
<rect x="911" y="449" width="7" height="1" fill="#000"/>
<rect x="914" y="459" width="1" height="28" fill="#000"/>
<rect x="911" y="486" width="7" height="1" fill="#000"/>
<rect x="910" y="457" width="9" height="2" fill="#ff0000"/>
<rect x="925" y="459" width="1" height="17" fill="#000"/>
<rect x="922" y="475" width="7" height="1" fill="#000"/>
<rect x="921" y="442" width="9" height="17" fill="#00ff00"/>
<rect x="936" y="413" width="1" height="5" fill="#000"/>
<rect x="933" y="413" width="7" height="1" fill="#000"/>
<rect x="936" y="440" width="1" height="2" fill="#000"/>
<rect x="933" y="441" width="7" height="1" fill="#000"/>
<rect x="932" y="418" width="9" height="22" fill="#00ff00"/>
<rect x="947" y="368" width="1" height="23" fill="#000"/>
<rect x="944" y="368" width="7" height="1" fill="#000"/>
<rect x="947" y="408" width="1" height="2" fill="#000"/>
<rect x="944" y="409" width="7" height="1" fill="#000"/>
<rect x="943" y="391" width="9" height="17" fill="#00ff00"/>
<rect x="958" y="356" width="1" height="4" fill="#000"/>
<rect x="955" y="356" width="7" height="1" fill="#000"/>
<rect x="958" y="397" width="1" height="10" fill="#000"/>
<rect x="955" y="406" width="7" height="1" fill="#000"/>
<rect x="954" y="360" width="9" height="37" fill="#00ff00"/>
<rect x="969" y="344" width="1" height="14" fill="#000"/>
<rect x="966" y="344" width="7" height="1" fill="#000"/>
<rect x="969" y="365" width="1" height="8" fill="#000"/>
<rect x="966" y="372" width="7" height="1" fill="#000"/>
<rect x="965" y="358" width="9" height="7" fill="#00ff00"/>
<rect x="980" y="396" width="1" height="15" fill="#000"/>
<rect x="977" y="410" width="7" height="1" fill="#000"/>
<rect x="976" y="363" width="9" height="33" fill="#ff0000"/>
<rect x="991" y="385" width="1" height="14" fill="#000"/>
<rect x="988" y="385" width="7" height="1" fill="#000"/>
<rect x="991" y="414" width="1" height="8" fill="#000"/>
<rect x="988" y="421" width="7" height="1" fill="#000"/>
<rect x="987" y="399" width="9" height="15" fill="#ff0000"/>
<rect x="1002" y="404" width="1" height="18" fill="#000"/>
<rect x="999" y="404" width="7" height="1" fill="#000"/>
<rect x="998" y="422" width="9" height="40" fill="#ff0000"/>
<rect x="1013" y="454" width="1" height="1" fill="#000"/>
<rect x="1010" y="454" width="7" height="1" fill="#000"/>
<rect x="1013" y="461" width="1" height="14" fill="#000"/>
<rect x="1010" y="474" width="7" height="1" fill="#000"/>
<rect x="1009" y="455" width="9" height="6" fill="#00ff00"/>
<rect x="1024" y="460" width="1" height="8" fill="#000"/>
<rect x="1021" y="460" width="7" height="1" fill="#000"/>
<rect x="1020" y="468" width="9" height="38" fill="#ff0000"/>
<rect x="1035" y="472" width="1" height="19" fill="#000"/>
<rect x="1032" y="472" width="7" height="1" fill="#000"/>
<rect x="1035" y="502" width="1" height="4" fill="#000"/>
<rect x="1032" y="505" width="7" height="1" fill="#000"/>
<rect x="1031" y="491" width="9" height="11" fill="#00ff00"/>
<rect x="1046" y="433" width="1" height="3" fill="#000"/>
<rect x="1043" y="433" width="7" height="1" fill="#000"/>
<rect x="1046" y="475" width="1" height="3" fill="#000"/>
<rect x="1043" y="477" width="7" height="1" fill="#000"/>
<rect x="1042" y="436" width="9" height="39" fill="#00ff00"/>
<rect x="1057" y="413" width="1" height="22" fill="#000"/>
<rect x="1054" y="413" width="7" height="1" fill="#000"/>
<rect x="1053" y="435" width="9" height="17" fill="#ff0000"/>
<rect x="1067" y="446" width="1" height="5" fill="#000"/>
<rect x="1064" y="446" width="7" height="1" fill="#000"/>
<rect x="1067" y="456" width="1" height="10" fill="#000"/>
<rect x="1064" y="465" width="7" height="1" fill="#000"/>
<rect x="1063" y="451" width="9" height="5" fill="#00ff00"/>
<rect x="1078" y="473" width="1" height="4" fill="#000"/>
<rect x="1075" y="476" width="7" height="1" fill="#000"/>
<rect x="1074" y="450" width="9" height="23" fill="#ff0000"/>
<rect x="1089" y="459" width="1" height="6" fill="#000"/>
<rect x="1086" y="459" width="7" height="1" fill="#000"/>
<rect x="1089" y="469" width="1" height="21" fill="#000"/>
<rect x="1086" y="489" width="7" height="1" fill="#000"/>
<rect x="1085" y="465" width="9" height="4" fill="#ff0000"/>
<rect x="1100" y="348" width="1" height="29" fill="#000"/>
<rect x="1097" y="348" width="7" height="1" fill="#000"/>
<rect x="1100" y="440" width="1" height="36" fill="#000"/>
<rect x="1097" y="475" width="7" height="1" fill="#000"/>
<rect x="1096" y="377" width="9" height="63" fill="#00ff00"/>
<rect x="1111" y="429" width="1" height="1" fill="#000"/>
<rect x="1108" y="429" width="7" height="1" fill="#000"/>
<rect x="1107" y="348" width="9" height="81" fill="#ff0000"/>
<rect x="1122" y="421" width="1" height="16" fill="#000"/>
<rect x="1119" y="436" width="7" height="1" fill="#000"/>
<rect x="1118" y="378" width="9" height="43" fill="#00ff00"/>
<rect x="1133" y="356" width="1" height="13" fill="#000"/>
<rect x="1130" y="356" width="7" height="1" fill="#000"/>
<rect x="1133" y="394" width="1" height="8" fill="#000"/>
<rect x="1130" y="401" width="7" height="1" fill="#000"/>
<rect x="1129" y="369" width="9" height="25" fill="#ff0000"/>
<rect x="1144" y="391" width="1" height="9" fill="#000"/>
<rect x="1141" y="391" width="7" height="1" fill="#000"/>
<rect x="1144" y="433" width="1" height="8" fill="#000"/>
<rect x="1141" y="440" width="7" height="1" fill="#000"/>
<rect x="1140" y="400" width="9" height="33" fill="#ff0000"/>
</g>
<g shape-rendering="crispEdges" stroke="#1c1c1c" stroke-width="1" fill="none">
<line x1="100.5" y1="59" x2="100.5" y2="601"/>
<line x1="98" y1="600.5" x2="1163" y2="600.5"/>
<line x1="98" y1="65.5" x2="103" y2="65.5"/>
<line x1="98" y1="106.5" x2="103" y2="106.5"/>
<line x1="98" y1="147.5" x2="103" y2="147.5"/>
<line x1="98" y1="188.5" x2="103" y2="188.5"/>
<line x1="98" y1="229.5" x2="103" y2="229.5"/>
<line x1="98" y1="270.5" x2="103" y2="270.5"/>
<line x1="98" y1="311.5" x2="103" y2="311.5"/>
<line x1="98" y1="353.5" x2="103" y2="353.5"/>
<line x1="98" y1="394.5" x2="103" y2="394.5"/>
<line x1="98" y1="435.5" x2="103" y2="435.5"/>
<line x1="98" y1="476.5" x2="103" y2="476.5"/>
<line x1="98" y1="517.5" x2="103" y2="517.5"/>
<line x1="98" y1="558.5" x2="103" y2="558.5"/>
<line x1="98" y1="600.5" x2="103" y2="600.5"/>
<line x1="105.5" y1="598" x2="105.5" y2="603"/>
<line x1="160.5" y1="598" x2="160.5" y2="603"/>
<line x1="214.5" y1="598" x2="214.5" y2="603"/>
<line x1="269.5" y1="598" x2="269.5" y2="603"/>
<line x1="324.5" y1="598" x2="324.5" y2="603"/>
<line x1="378.5" y1="598" x2="378.5" y2="603"/>
<line x1="433.5" y1="598" x2="433.5" y2="603"/>
<line x1="488.5" y1="598" x2="488.5" y2="603"/>
<line x1="542.5" y1="598" x2="542.5" y2="603"/>
<line x1="597.5" y1="598" x2="597.5" y2="603"/>
<line x1="652.5" y1="598" x2="652.5" y2="603"/>
<line x1="707.5" y1="598" x2="707.5" y2="603"/>
<line x1="761.5" y1="598" x2="761.5" y2="603"/>
<line x1="816.5" y1="598" x2="816.5" y2="603"/>
<line x1="871.5" y1="598" x2="871.5" y2="603"/>
<line x1="925.5" y1="598" x2="925.5" y2="603"/>
<line x1="980.5" y1="598" x2="980.5" y2="603"/>
<line x1="1035.5" y1="598" x2="1035.5" y2="603"/>
<line x1="1089.5" y1="598" x2="1089.5" y2="603"/>
<line x1="1144.5" y1="598" x2="1144.5" y2="603"/>
</g>
<g shape-rendering="crispEdges" stroke="#d8d8d8" stroke-width="1">
<line x1="116.5" y1="601" x2="116.5" y2="603"/>
<line x1="127.5" y1="601" x2="127.5" y2="603"/>
<line x1="138.5" y1="601" x2="138.5" y2="603"/>
<line x1="149.5" y1="601" x2="149.5" y2="603"/>
<line x1="171.5" y1="601" x2="171.5" y2="603"/>
<line x1="182.5" y1="601" x2="182.5" y2="603"/>
<line x1="192.5" y1="601" x2="192.5" y2="603"/>
<line x1="203.5" y1="601" x2="203.5" y2="603"/>
<line x1="225.5" y1="601" x2="225.5" y2="603"/>
<line x1="236.5" y1="601" x2="236.5" y2="603"/>
<line x1="247.5" y1="601" x2="247.5" y2="603"/>
<line x1="258.5" y1="601" x2="258.5" y2="603"/>
<line x1="280.5" y1="601" x2="280.5" y2="603"/>
<line x1="291.5" y1="601" x2="291.5" y2="603"/>
<line x1="302.5" y1="601" x2="302.5" y2="603"/>
<line x1="313.5" y1="601" x2="313.5" y2="603"/>
<line x1="335.5" y1="601" x2="335.5" y2="603"/>
<line x1="346.5" y1="601" x2="346.5" y2="603"/>
<line x1="357.5" y1="601" x2="357.5" y2="603"/>
<line x1="367.5" y1="601" x2="367.5" y2="603"/>
<line x1="389.5" y1="601" x2="389.5" y2="603"/>
<line x1="400.5" y1="601" x2="400.5" y2="603"/>
<line x1="411.5" y1="601" x2="411.5" y2="603"/>
<line x1="422.5" y1="601" x2="422.5" y2="603"/>
<line x1="444.5" y1="601" x2="444.5" y2="603"/>
<line x1="455.5" y1="601" x2="455.5" y2="603"/>
<line x1="466.5" y1="601" x2="466.5" y2="603"/>
<line x1="477.5" y1="601" x2="477.5" y2="603"/>
<line x1="499.5" y1="601" x2="499.5" y2="603"/>
<line x1="510.5" y1="601" x2="510.5" y2="603"/>
<line x1="521.5" y1="601" x2="521.5" y2="603"/>
<line x1="532.5" y1="601" x2="532.5" y2="603"/>
<line x1="553.5" y1="601" x2="553.5" y2="603"/>
<line x1="564.5" y1="601" x2="564.5" y2="603"/>
<line x1="575.5" y1="601" x2="575.5" y2="603"/>
<line x1="586.5" y1="601" x2="586.5" y2="603"/>
<line x1="608.5" y1="601" x2="608.5" y2="603"/>
<line x1="619.5" y1="601" x2="619.5" y2="603"/>
<line x1="630.5" y1="601" x2="630.5" y2="603"/>
<line x1="641.5" y1="601" x2="641.5" y2="603"/>
<line x1="663.5" y1="601" x2="663.5" y2="603"/>
<line x1="674.5" y1="601" x2="674.5" y2="603"/>
<line x1="685.5" y1="601" x2="685.5" y2="603"/>
<line x1="696.5" y1="601" x2="696.5" y2="603"/>
<line x1="717.5" y1="601" x2="717.5" y2="603"/>
<line x1="728.5" y1="601" x2="728.5" y2="603"/>
<line x1="739.5" y1="601" x2="739.5" y2="603"/>
<line x1="750.5" y1="601" x2="750.5" y2="603"/>
<line x1="772.5" y1="601" x2="772.5" y2="603"/>
<line x1="783.5" y1="601" x2="783.5" y2="603"/>
<line x1="794.5" y1="601" x2="794.5" y2="603"/>
<line x1="805.5" y1="601" x2="805.5" y2="603"/>
<line x1="827.5" y1="601" x2="827.5" y2="603"/>
<line x1="838.5" y1="601" x2="838.5" y2="603"/>
<line x1="849.5" y1="601" x2="849.5" y2="603"/>
<line x1="860.5" y1="601" x2="860.5" y2="603"/>
<line x1="882.5" y1="601" x2="882.5" y2="603"/>
<line x1="892.5" y1="601" x2="892.5" y2="603"/>
<line x1="903.5" y1="601" x2="903.5" y2="603"/>
<line x1="914.5" y1="601" x2="914.5" y2="603"/>
<line x1="936.5" y1="601" x2="936.5" y2="603"/>
<line x1="947.5" y1="601" x2="947.5" y2="603"/>
<line x1="958.5" y1="601" x2="958.5" y2="603"/>
<line x1="969.5" y1="601" x2="969.5" y2="603"/>
<line x1="991.5" y1="601" x2="991.5" y2="603"/>
<line x1="1002.5" y1="601" x2="1002.5" y2="603"/>
<line x1="1013.5" y1="601" x2="1013.5" y2="603"/>
<line x1="1024.5" y1="601" x2="1024.5" y2="603"/>
<line x1="1046.5" y1="601" x2="1046.5" y2="603"/>
<line x1="1057.5" y1="601" x2="1057.5" y2="603"/>
<line x1="1067.5" y1="601" x2="1067.5" y2="603"/>
<line x1="1078.5" y1="601" x2="1078.5" y2="603"/>
<line x1="1100.5" y1="601" x2="1100.5" y2="603"/>
<line x1="1111.5" y1="601" x2="1111.5" y2="603"/>
<line x1="1122.5" y1="601" x2="1122.5" y2="603"/>
<line x1="1133.5" y1="601" x2="1133.5" y2="603"/>
</g>
<path d="M100.5 52 L104.2 60 L96.8 60 Z" fill="#1c1c1c"/>
<path d="M1162.5 600.5 L1156 597.0 L1156 604.0 Z" fill="#1c1c1c"/>
<rect x="101" y="841.67" width="1050" height="29.17" fill="#f9f9f9"/>
<rect x="101" y="783.33" width="1050" height="29.17" fill="#f9f9f9"/>
<rect x="101" y="725.00" width="1050" height="29.17" fill="#f9f9f9"/>
<g shape-rendering="crispEdges" stroke="#cccccc" stroke-width="1" fill="none">
<line x1="107" y1="725.5" x2="1151" y2="725.5" stroke-dasharray="4 4"/>
<line x1="107" y1="754.5" x2="1151" y2="754.5" stroke-dasharray="4 4"/>
<line x1="107" y1="783.5" x2="1151" y2="783.5" stroke-dasharray="4 4"/>
<line x1="107" y1="812.5" x2="1151" y2="812.5" stroke-dasharray="4 4"/>
<line x1="107" y1="841.5" x2="1151" y2="841.5" stroke-dasharray="4 4"/>
<line x1="107" y1="870.5" x2="1151" y2="870.5" stroke-dasharray="4 4"/>
<line x1="105.5" y1="725" x2="105.5" y2="900" stroke-dasharray="4 4" stroke-dashoffset="1"/>
<line x1="116.5" y1="725" x2="116.5" y2="900" stroke-dasharray="6 6" stroke-dashoffset="1"/>
<line x1="127.5" y1="725" x2="127.5" y2="900" stroke-dasharray="6 6" stroke-dashoffset="1"/>
<line x1="138.5" y1="725" x2="138.5" y2="900" stroke-dasharray="6 6" stroke-dashoffset="1"/>
<line x1="149.5" y1="725" x2="149.5" y2="900" stroke-dasharray="6 6" stroke-dashoffset="1"/>
<line x1="160.5" y1="725" x2="160.5" y2="900" stroke-dasharray="4 4" stroke-dashoffset="1"/>
<line x1="171.5" y1="725" x2="171.5" y2="900" stroke-dasharray="6 6" stroke-dashoffset="1"/>
<line x1="182.5" y1="725" x2="182.5" y2="900" stroke-dasharray="6 6" stroke-dashoffset="1"/>
<line x1="192.5" y1="725" x2="192.5" y2="900" stroke-dasharray="6 6" stroke-dashoffset="1"/>
<line x1="203.5" y1="725" x2="203.5" y2="900" stroke-dasharray="6 6" stroke-dashoffset="1"/>
<line x1="214.5" y1="725" x2="214.5" y2="900" stroke-dasharray="4 4" stroke-dashoffset="1"/>
<line x1="225.5" y1="725" x2="225.5" y2="900" stroke-dasharray="6 6" stroke-dashoffset="1"/>
<line x1="236.5" y1="725" x2="236.5" y2="900" stroke-dasharray="6 6" stroke-dashoffset="1"/>
<line x1="247.5" y1="725" x2="247.5" y2="900" stroke-dasharray="6 6" stroke-dashoffset="1"/>
<line x1="258.5" y1="725" x2="258.5" y2="900" stroke-dasharray="6 6" stroke-dashoffset="1"/>
<line x1="269.5" y1="725" x2="269.5" y2="900" stroke-dasharray="4 4" stroke-dashoffset="1"/>
<line x1="280.5" y1="725" x2="280.5" y2="900" stroke-dasharray="6 6" stroke-dashoffset="1"/>
<line x1="291.5" y1="725" x2="291.5" y2="900" stroke-dasharray="6 6" stroke-dashoffset="1"/>
<line x1="302.5" y1="725" x2="302.5" y2="900" stroke-dasharray="6 6" stroke-dashoffset="1"/>
<line x1="313.5" y1="725" x2="313.5" y2="900" stroke-dasharray="6 6" stroke-dashoffset="1"/>
<line x1="324.5" y1="725" x2="324.5" y2="900" stroke-dasharray="4 4" stroke-dashoffset="1"/>
<line x1="335.5" y1="725" x2="335.5" y2="900" stroke-dasharray="6 6" stroke-dashoffset="1"/>
<line x1="346.5" y1="725" x2="346.5" y2="900" stroke-dasharray="6 6" stroke-dashoffset="1"/>
<line x1="357.5" y1="725" x2="357.5" y2="900" stroke-dasharray="6 6" stroke-dashoffset="1"/>
<line x1="367.5" y1="725" x2="367.5" y2="900" stroke-dasharray="6 6" stroke-dashoffset="1"/>
<line x1="378.5" y1="725" x2="378.5" y2="900" stroke-dasharray="4 4" stroke-dashoffset="1"/>
<line x1="389.5" y1="725" x2="389.5" y2="900" stroke-dasharray="6 6" stroke-dashoffset="1"/>
<line x1="400.5" y1="725" x2="400.5" y2="900" stroke-dasharray="6 6" stroke-dashoffset="1"/>
<line x1="411.5" y1="725" x2="411.5" y2="900" stroke-dasharray="6 6" stroke-dashoffset="1"/>
<line x1="422.5" y1="725" x2="422.5" y2="900" stroke-dasharray="6 6" stroke-dashoffset="1"/>
<line x1="433.5" y1="725" x2="433.5" y2="900" stroke-dasharray="4 4" stroke-dashoffset="1"/>
<line x1="444.5" y1="725" x2="444.5" y2="900" stroke-dasharray="6 6" stroke-dashoffset="1"/>
<line x1="455.5" y1="725" x2="455.5" y2="900" stroke-dasharray="6 6" stroke-dashoffset="1"/>
<line x1="466.5" y1="725" x2="466.5" y2="900" stroke-dasharray="6 6" stroke-dashoffset="1"/>
<line x1="477.5" y1="725" x2="477.5" y2="900" stroke-dasharray="6 6" stroke-dashoffset="1"/>
<line x1="488.5" y1="725" x2="488.5" y2="900" stroke-dasharray="4 4" stroke-dashoffset="1"/>
<line x1="499.5" y1="725" x2="499.5" y2="900" stroke-dasharray="6 6" stroke-dashoffset="1"/>
<line x1="510.5" y1="725" x2="510.5" y2="900" stroke-dasharray="6 6" stroke-dashoffset="1"/>
<line x1="521.5" y1="725" x2="521.5" y2="900" stroke-dasharray="6 6" stroke-dashoffset="1"/>
<line x1="532.5" y1="725" x2="532.5" y2="900" stroke-dasharray="6 6" stroke-dashoffset="1"/>
<line x1="542.5" y1="725" x2="542.5" y2="900" stroke-dasharray="4 4" stroke-dashoffset="1"/>
<line x1="553.5" y1="725" x2="553.5" y2="900" stroke-dasharray="6 6" stroke-dashoffset="1"/>
<line x1="564.5" y1="725" x2="564.5" y2="900" stroke-dasharray="6 6" stroke-dashoffset="1"/>
<line x1="575.5" y1="725" x2="575.5" y2="900" stroke-dasharray="6 6" stroke-dashoffset="1"/>
<line x1="586.5" y1="725" x2="586.5" y2="900" stroke-dasharray="6 6" stroke-dashoffset="1"/>
<line x1="597.5" y1="725" x2="597.5" y2="900" stroke-dasharray="4 4" stroke-dashoffset="1"/>
<line x1="608.5" y1="725" x2="608.5" y2="900" stroke-dasharray="6 6" stroke-dashoffset="1"/>
<line x1="619.5" y1="725" x2="619.5" y2="900" stroke-dasharray="6 6" stroke-dashoffset="1"/>
<line x1="630.5" y1="725" x2="630.5" y2="900" stroke-dasharray="6 6" stroke-dashoffset="1"/>
<line x1="641.5" y1="725" x2="641.5" y2="900" stroke-dasharray="6 6" stroke-dashoffset="1"/>
<line x1="652.5" y1="725" x2="652.5" y2="900" stroke-dasharray="4 4" stroke-dashoffset="1"/>
<line x1="663.5" y1="725" x2="663.5" y2="900" stroke-dasharray="6 6" stroke-dashoffset="1"/>
<line x1="674.5" y1="725" x2="674.5" y2="900" stroke-dasharray="6 6" stroke-dashoffset="1"/>
<line x1="685.5" y1="725" x2="685.5" y2="900" stroke-dasharray="6 6" stroke-dashoffset="1"/>
<line x1="696.5" y1="725" x2="696.5" y2="900" stroke-dasharray="6 6" stroke-dashoffset="1"/>
<line x1="707.5" y1="725" x2="707.5" y2="900" stroke-dasharray="4 4" stroke-dashoffset="1"/>
<line x1="717.5" y1="725" x2="717.5" y2="900" stroke-dasharray="6 6" stroke-dashoffset="1"/>
<line x1="728.5" y1="725" x2="728.5" y2="900" stroke-dasharray="6 6" stroke-dashoffset="1"/>
<line x1="739.5" y1="725" x2="739.5" y2="900" stroke-dasharray="6 6" stroke-dashoffset="1"/>
<line x1="750.5" y1="725" x2="750.5" y2="900" stroke-dasharray="6 6" stroke-dashoffset="1"/>
<line x1="761.5" y1="725" x2="761.5" y2="900" stroke-dasharray="4 4" stroke-dashoffset="1"/>
<line x1="772.5" y1="725" x2="772.5" y2="900" stroke-dasharray="6 6" stroke-dashoffset="1"/>
<line x1="783.5" y1="725" x2="783.5" y2="900" stroke-dasharray="6 6" stroke-dashoffset="1"/>
<line x1="794.5" y1="725" x2="794.5" y2="900" stroke-dasharray="6 6" stroke-dashoffset="1"/>
<line x1="805.5" y1="725" x2="805.5" y2="900" stroke-dasharray="6 6" stroke-dashoffset="1"/>
<line x1="816.5" y1="725" x2="816.5" y2="900" stroke-dasharray="4 4" stroke-dashoffset="1"/>
<line x1="827.5" y1="725" x2="827.5" y2="900" stroke-dasharray="6 6" stroke-dashoffset="1"/>
<line x1="838.5" y1="725" x2="838.5" y2="900" stroke-dasharray="6 6" stroke-dashoffset="1"/>
<line x1="849.5" y1="725" x2="849.5" y2="900" stroke-dasharray="6 6" stroke-dashoffset="1"/>
<line x1="860.5" y1="725" x2="860.5" y2="900" stroke-dasharray="6 6" stroke-dashoffset="1"/>
<line x1="871.5" y1="725" x2="871.5" y2="900" stroke-dasharray="4 4" stroke-dashoffset="1"/>
<line x1="882.5" y1="725" x2="882.5" y2="900" stroke-dasharray="6 6" stroke-dashoffset="1"/>
<line x1="892.5" y1="725" x2="892.5" y2="900" stroke-dasharray="6 6" stroke-dashoffset="1"/>
<line x1="903.5" y1="725" x2="903.5" y2="900" stroke-dasharray="6 6" stroke-dashoffset="1"/>
<line x1="914.5" y1="725" x2="914.5" y2="900" stroke-dasharray="6 6" stroke-dashoffset="1"/>
<line x1="925.5" y1="725" x2="925.5" y2="900" stroke-dasharray="4 4" stroke-dashoffset="1"/>
<line x1="936.5" y1="725" x2="936.5" y2="900" stroke-dasharray="6 6" stroke-dashoffset="1"/>
<line x1="947.5" y1="725" x2="947.5" y2="900" stroke-dasharray="6 6" stroke-dashoffset="1"/>
<line x1="958.5" y1="725" x2="958.5" y2="900" stroke-dasharray="6 6" stroke-dashoffset="1"/>
<line x1="969.5" y1="725" x2="969.5" y2="900" stroke-dasharray="6 6" stroke-dashoffset="1"/>
<line x1="980.5" y1="725" x2="980.5" y2="900" stroke-dasharray="4 4" stroke-dashoffset="1"/>
<line x1="991.5" y1="725" x2="991.5" y2="900" stroke-dasharray="6 6" stroke-dashoffset="1"/>
<line x1="1002.5" y1="725" x2="1002.5" y2="900" stroke-dasharray="6 6" stroke-dashoffset="1"/>
<line x1="1013.5" y1="725" x2="1013.5" y2="900" stroke-dasharray="6 6" stroke-dashoffset="1"/>
<line x1="1024.5" y1="725" x2="1024.5" y2="900" stroke-dasharray="6 6" stroke-dashoffset="1"/>
<line x1="1035.5" y1="725" x2="1035.5" y2="900" stroke-dasharray="4 4" stroke-dashoffset="1"/>
<line x1="1046.5" y1="725" x2="1046.5" y2="900" stroke-dasharray="6 6" stroke-dashoffset="1"/>
<line x1="1057.5" y1="725" x2="1057.5" y2="900" stroke-dasharray="6 6" stroke-dashoffset="1"/>
<line x1="1067.5" y1="725" x2="1067.5" y2="900" stroke-dasharray="6 6" stroke-dashoffset="1"/>
<line x1="1078.5" y1="725" x2="1078.5" y2="900" stroke-dasharray="6 6" stroke-dashoffset="1"/>
<line x1="1089.5" y1="725" x2="1089.5" y2="900" stroke-dasharray="4 4" stroke-dashoffset="1"/>
<line x1="1100.5" y1="725" x2="1100.5" y2="900" stroke-dasharray="6 6" stroke-dashoffset="1"/>
<line x1="1111.5" y1="725" x2="1111.5" y2="900" stroke-dasharray="6 6" stroke-dashoffset="1"/>
<line x1="1122.5" y1="725" x2="1122.5" y2="900" stroke-dasharray="6 6" stroke-dashoffset="1"/>
<line x1="1133.5" y1="725" x2="1133.5" y2="900" stroke-dasharray="6 6" stroke-dashoffset="1"/>
<line x1="1144.5" y1="725" x2="1144.5" y2="900" stroke-dasharray="4 4" stroke-dashoffset="1"/>
</g>
<text x="111.70" y="693.90" font-size="24.4" fill="#000000" textLength="69.30" lengthAdjust="spacingAndGlyphs">Veolia</text>
<text x="190.40" y="693.90" font-size="24.4" fill="#000000" textLength="192.30" lengthAdjust="spacingAndGlyphs">Environnement:</text>
<text x="391.20" y="693.90" font-size="24.4" fill="#000000" textLength="121.55" lengthAdjust="spacingAndGlyphs">graphique</text>
<text x="520.45" y="693.90" font-size="24.4" fill="#000000" textLength="30.05" lengthAdjust="spacingAndGlyphs">du</text>
<text x="559.70" y="693.90" font-size="24.4" fill="#000000" textLength="87.30" lengthAdjust="spacingAndGlyphs">volume</text>
<text x="656.40" y="693.90" font-size="24.4" fill="#000000" textLength="9.30" lengthAdjust="spacingAndGlyphs">-</text>
<text x="675.40" y="693.90" font-size="24.4" fill="#000000" textLength="208.30" lengthAdjust="spacingAndGlyphs">AnalyBourse.com</text>
<text transform="translate(19.0,812.2) rotate(-90)" font-size="11" text-anchor="middle" fill="#000000" textLength="40.34" lengthAdjust="spacingAndGlyphs">Volume</text>
<text x="94.80" y="728.70" font-size="11" text-anchor="end" fill="#000000" textLength="71.77" lengthAdjust="spacingAndGlyphs" >6,000,000.00</text>
<text x="94.80" y="757.87" font-size="11" text-anchor="end" fill="#000000" textLength="71.77" lengthAdjust="spacingAndGlyphs" >5,000,000.00</text>
<text x="94.80" y="787.03" font-size="11" text-anchor="end" fill="#000000" textLength="71.77" lengthAdjust="spacingAndGlyphs" >4,000,000.00</text>
<text x="94.80" y="816.20" font-size="11" text-anchor="end" fill="#000000" textLength="71.77" lengthAdjust="spacingAndGlyphs" >3,000,000.00</text>
<text x="94.80" y="845.37" font-size="11" text-anchor="end" fill="#000000" textLength="71.77" lengthAdjust="spacingAndGlyphs" >2,000,000.00</text>
<text x="94.80" y="874.53" font-size="11" text-anchor="end" fill="#000000" textLength="71.77" lengthAdjust="spacingAndGlyphs" >1,000,000.00</text>
<text x="94.80" y="903.70" font-size="11" text-anchor="end" fill="#000000" textLength="23.92" lengthAdjust="spacingAndGlyphs" >0.00</text>
<text x="104.30" y="912.80" font-size="11" text-anchor="middle" fill="#000000" textLength="34.59" lengthAdjust="spacingAndGlyphs" >23 Avr</text>
<text x="159.30" y="912.80" font-size="11" text-anchor="middle" fill="#000000" textLength="34.59" lengthAdjust="spacingAndGlyphs" >30 Avr</text>
<text x="213.30" y="912.80" font-size="11" text-anchor="middle" fill="#000000" textLength="29.07" lengthAdjust="spacingAndGlyphs" >8 Mai</text>
<text x="268.30" y="912.80" font-size="11" text-anchor="middle" fill="#000000" textLength="35.91" lengthAdjust="spacingAndGlyphs" >15 Mai</text>
<text x="323.30" y="912.80" font-size="11" text-anchor="middle" fill="#000000" textLength="35.91" lengthAdjust="spacingAndGlyphs" >22 Mai</text>
<text x="377.30" y="912.80" font-size="11" text-anchor="middle" fill="#000000" textLength="35.91" lengthAdjust="spacingAndGlyphs" >29 Mai</text>
<text x="432.30" y="912.80" font-size="11" text-anchor="middle" fill="#000000" textLength="30.00" lengthAdjust="spacingAndGlyphs" >5 Juin</text>
<text x="487.30" y="912.80" font-size="11" text-anchor="middle" fill="#000000" textLength="36.84" lengthAdjust="spacingAndGlyphs" >12 Juin</text>
<text x="541.30" y="912.80" font-size="11" text-anchor="middle" fill="#000000" textLength="36.84" lengthAdjust="spacingAndGlyphs" >19 Juin</text>
<text x="596.30" y="912.80" font-size="11" text-anchor="middle" fill="#000000" textLength="36.84" lengthAdjust="spacingAndGlyphs" >26 Juin</text>
<text x="651.30" y="912.80" font-size="11" text-anchor="middle" fill="#000000" textLength="26.18" lengthAdjust="spacingAndGlyphs" >3 Juil</text>
<text x="706.30" y="912.80" font-size="11" text-anchor="middle" fill="#000000" textLength="33.01" lengthAdjust="spacingAndGlyphs" >10 Juil</text>
<text x="760.30" y="912.80" font-size="11" text-anchor="middle" fill="#000000" textLength="33.01" lengthAdjust="spacingAndGlyphs" >17 Juil</text>
<text x="815.30" y="912.80" font-size="11" text-anchor="middle" fill="#000000" textLength="33.01" lengthAdjust="spacingAndGlyphs" >24 Juil</text>
<text x="870.30" y="912.80" font-size="11" text-anchor="middle" fill="#000000" textLength="33.01" lengthAdjust="spacingAndGlyphs" >31 Juil</text>
<text x="924.30" y="912.80" font-size="11" text-anchor="middle" fill="#000000" textLength="35.00" lengthAdjust="spacingAndGlyphs" >7 Août</text>
<text x="979.30" y="912.80" font-size="11" text-anchor="middle" fill="#000000" textLength="41.83" lengthAdjust="spacingAndGlyphs" >14 Août</text>
<text x="1034.30" y="912.80" font-size="11" text-anchor="middle" fill="#000000" textLength="41.83" lengthAdjust="spacingAndGlyphs" >21 Août</text>
<text x="1088.30" y="912.80" font-size="11" text-anchor="middle" fill="#000000" textLength="41.83" lengthAdjust="spacingAndGlyphs" >28 Août</text>
<text x="1143.30" y="912.80" font-size="11" text-anchor="middle" fill="#000000" textLength="34.71" lengthAdjust="spacingAndGlyphs" >4 Sept</text>
<text x="624.00" y="926.80" font-size="11" text-anchor="middle" fill="#000000" textLength="247.50" lengthAdjust="spacingAndGlyphs" >Date (du 23 Avril 2020 au 4 Septembre 2020)</text>
<g shape-rendering="crispEdges">
<rect x="101" y="837" width="9" height="63" fill="rgba(0,255,0,0.66)"/>
<rect x="112" y="856" width="9" height="44" fill="rgba(0,255,0,0.66)"/>
<rect x="123" y="855" width="8" height="45" fill="rgba(0,255,0,0.66)"/>
<rect x="134" y="856" width="8" height="44" fill="rgba(255,0,0,0.66)"/>
<rect x="145" y="854" width="8" height="46" fill="rgba(0,255,0,0.66)"/>
<rect x="156" y="823" width="8" height="77" fill="rgba(255,0,0,0.66)"/>
<rect x="167" y="845" width="8" height="55" fill="rgba(255,0,0,0.66)"/>
<rect x="178" y="845" width="8" height="55" fill="rgba(0,255,0,0.66)"/>
<rect x="189" y="855" width="8" height="45" fill="rgba(255,0,0,0.66)"/>
<rect x="200" y="872" width="8" height="28" fill="rgba(0,255,0,0.66)"/>
<rect x="210" y="872" width="9" height="28" fill="rgba(0,255,0,0.66)"/>
<rect x="221" y="859" width="9" height="41" fill="rgba(255,0,0,0.66)"/>
<rect x="232" y="851" width="9" height="49" fill="rgba(0,255,0,0.66)"/>
<rect x="243" y="854" width="9" height="46" fill="rgba(255,0,0,0.66)"/>
<rect x="254" y="842" width="9" height="58" fill="rgba(255,0,0,0.66)"/>
<rect x="265" y="845" width="9" height="55" fill="rgba(255,0,0,0.66)"/>
<rect x="276" y="856" width="9" height="44" fill="rgba(0,255,0,0.66)"/>
<rect x="287" y="828" width="9" height="72" fill="rgba(255,0,0,0.66)"/>
<rect x="298" y="840" width="8" height="60" fill="rgba(255,0,0,0.66)"/>
<rect x="309" y="871" width="8" height="29" fill="rgba(0,255,0,0.66)"/>
<rect x="320" y="850" width="8" height="50" fill="rgba(0,255,0,0.66)"/>
<rect x="331" y="858" width="8" height="42" fill="rgba(0,255,0,0.66)"/>
<rect x="342" y="816" width="8" height="84" fill="rgba(0,255,0,0.66)"/>
<rect x="353" y="809" width="8" height="91" fill="rgba(0,255,0,0.66)"/>
<rect x="364" y="823" width="8" height="77" fill="rgba(0,255,0,0.66)"/>
<rect x="375" y="830" width="8" height="70" fill="rgba(255,0,0,0.66)"/>
<rect x="385" y="862" width="9" height="38" fill="rgba(255,0,0,0.66)"/>
<rect x="396" y="831" width="9" height="69" fill="rgba(0,255,0,0.66)"/>
<rect x="407" y="819" width="9" height="81" fill="rgba(0,255,0,0.66)"/>
<rect x="418" y="824" width="9" height="76" fill="rgba(255,0,0,0.66)"/>
<rect x="429" y="826" width="9" height="74" fill="rgba(0,255,0,0.66)"/>
<rect x="440" y="838" width="9" height="62" fill="rgba(255,0,0,0.66)"/>
<rect x="451" y="830" width="9" height="70" fill="rgba(255,0,0,0.66)"/>
<rect x="462" y="830" width="9" height="70" fill="rgba(255,0,0,0.66)"/>
<rect x="473" y="826" width="8" height="74" fill="rgba(255,0,0,0.66)"/>
<rect x="484" y="848" width="8" height="52" fill="rgba(0,255,0,0.66)"/>
<rect x="495" y="840" width="8" height="60" fill="rgba(0,255,0,0.66)"/>
<rect x="506" y="827" width="8" height="73" fill="rgba(0,255,0,0.66)"/>
<rect x="517" y="848" width="8" height="52" fill="rgba(255,0,0,0.66)"/>
<rect x="528" y="863" width="8" height="37" fill="rgba(255,0,0,0.66)"/>
<rect x="539" y="817" width="8" height="83" fill="rgba(0,255,0,0.66)"/>
<rect x="550" y="862" width="8" height="38" fill="rgba(0,255,0,0.66)"/>
<rect x="560" y="851" width="9" height="49" fill="rgba(255,0,0,0.66)"/>
<rect x="571" y="856" width="9" height="44" fill="rgba(255,0,0,0.66)"/>
<rect x="582" y="851" width="9" height="49" fill="rgba(0,255,0,0.66)"/>
<rect x="593" y="860" width="9" height="40" fill="rgba(255,0,0,0.66)"/>
<rect x="604" y="861" width="9" height="39" fill="rgba(0,255,0,0.66)"/>
<rect x="615" y="840" width="9" height="60" fill="rgba(255,0,0,0.66)"/>
<rect x="626" y="832" width="9" height="68" fill="rgba(255,0,0,0.66)"/>
<rect x="637" y="845" width="9" height="55" fill="rgba(0,255,0,0.66)"/>
<rect x="648" y="874" width="8" height="26" fill="rgba(255,0,0,0.66)"/>
<rect x="659" y="860" width="8" height="40" fill="rgba(255,0,0,0.66)"/>
<rect x="670" y="862" width="8" height="38" fill="rgba(255,0,0,0.66)"/>
<rect x="681" y="862" width="8" height="38" fill="rgba(0,255,0,0.66)"/>
<rect x="692" y="839" width="8" height="61" fill="rgba(255,0,0,0.66)"/>
<rect x="703" y="858" width="8" height="42" fill="rgba(0,255,0,0.66)"/>
<rect x="714" y="861" width="8" height="39" fill="rgba(255,0,0,0.66)"/>
<rect x="725" y="848" width="8" height="52" fill="rgba(255,0,0,0.66)"/>
<rect x="735" y="847" width="9" height="53" fill="rgba(0,255,0,0.66)"/>
<rect x="746" y="846" width="9" height="54" fill="rgba(0,255,0,0.66)"/>
<rect x="757" y="847" width="9" height="53" fill="rgba(255,0,0,0.66)"/>
<rect x="768" y="860" width="9" height="40" fill="rgba(0,255,0,0.66)"/>
<rect x="779" y="843" width="9" height="57" fill="rgba(0,255,0,0.66)"/>
<rect x="790" y="824" width="9" height="76" fill="rgba(0,255,0,0.66)"/>
<rect x="801" y="861" width="9" height="39" fill="rgba(255,0,0,0.66)"/>
<rect x="812" y="856" width="8" height="44" fill="rgba(255,0,0,0.66)"/>
<rect x="823" y="849" width="8" height="51" fill="rgba(0,255,0,0.66)"/>
<rect x="834" y="855" width="8" height="45" fill="rgba(0,255,0,0.66)"/>
<rect x="845" y="836" width="8" height="64" fill="rgba(0,255,0,0.66)"/>
<rect x="856" y="823" width="8" height="77" fill="rgba(255,0,0,0.66)"/>
<rect x="867" y="826" width="8" height="74" fill="rgba(255,0,0,0.66)"/>
<rect x="878" y="847" width="8" height="53" fill="rgba(255,0,0,0.66)"/>
<rect x="889" y="852" width="8" height="48" fill="rgba(255,0,0,0.66)"/>
<rect x="899" y="863" width="9" height="37" fill="rgba(255,0,0,0.66)"/>
<rect x="910" y="857" width="9" height="43" fill="rgba(255,0,0,0.66)"/>
<rect x="921" y="870" width="9" height="30" fill="rgba(0,255,0,0.66)"/>
<rect x="932" y="867" width="9" height="33" fill="rgba(0,255,0,0.66)"/>
<rect x="943" y="853" width="9" height="47" fill="rgba(0,255,0,0.66)"/>
<rect x="954" y="852" width="9" height="48" fill="rgba(0,255,0,0.66)"/>
<rect x="965" y="859" width="9" height="41" fill="rgba(0,255,0,0.66)"/>
<rect x="976" y="850" width="9" height="50" fill="rgba(255,0,0,0.66)"/>
<rect x="987" y="860" width="8" height="40" fill="rgba(255,0,0,0.66)"/>
<rect x="998" y="848" width="8" height="52" fill="rgba(255,0,0,0.66)"/>
<rect x="1009" y="864" width="8" height="36" fill="rgba(0,255,0,0.66)"/>
<rect x="1020" y="821" width="8" height="79" fill="rgba(255,0,0,0.66)"/>
<rect x="1031" y="853" width="8" height="47" fill="rgba(0,255,0,0.66)"/>
<rect x="1042" y="851" width="8" height="49" fill="rgba(0,255,0,0.66)"/>
<rect x="1053" y="865" width="8" height="35" fill="rgba(255,0,0,0.66)"/>
<rect x="1064" y="865" width="8" height="35" fill="rgba(0,255,0,0.66)"/>
<rect x="1074" y="857" width="9" height="43" fill="rgba(255,0,0,0.66)"/>
<rect x="1085" y="870" width="9" height="30" fill="rgba(255,0,0,0.66)"/>
<rect x="1096" y="737" width="9" height="163" fill="rgba(0,255,0,0.66)"/>
<rect x="1107" y="807" width="9" height="93" fill="rgba(255,0,0,0.66)"/>
<rect x="1118" y="839" width="9" height="61" fill="rgba(0,255,0,0.66)"/>
<rect x="1129" y="846" width="9" height="54" fill="rgba(255,0,0,0.66)"/>
<rect x="1140" y="847" width="9" height="53" fill="rgba(255,0,0,0.66)"/>
</g>
<g shape-rendering="crispEdges" stroke="#1c1c1c" stroke-width="1" fill="none">
<line x1="100.5" y1="719" x2="100.5" y2="901"/>
<line x1="98" y1="900.5" x2="1163" y2="900.5"/>
<line x1="98" y1="725.5" x2="103" y2="725.5"/>
<line x1="98" y1="754.5" x2="103" y2="754.5"/>
<line x1="98" y1="783.5" x2="103" y2="783.5"/>
<line x1="98" y1="812.5" x2="103" y2="812.5"/>
<line x1="98" y1="841.5" x2="103" y2="841.5"/>
<line x1="98" y1="870.5" x2="103" y2="870.5"/>
<line x1="98" y1="900.5" x2="103" y2="900.5"/>
<line x1="105.5" y1="898" x2="105.5" y2="903"/>
<line x1="160.5" y1="898" x2="160.5" y2="903"/>
<line x1="214.5" y1="898" x2="214.5" y2="903"/>
<line x1="269.5" y1="898" x2="269.5" y2="903"/>
<line x1="324.5" y1="898" x2="324.5" y2="903"/>
<line x1="378.5" y1="898" x2="378.5" y2="903"/>
<line x1="433.5" y1="898" x2="433.5" y2="903"/>
<line x1="488.5" y1="898" x2="488.5" y2="903"/>
<line x1="542.5" y1="898" x2="542.5" y2="903"/>
<line x1="597.5" y1="898" x2="597.5" y2="903"/>
<line x1="652.5" y1="898" x2="652.5" y2="903"/>
<line x1="707.5" y1="898" x2="707.5" y2="903"/>
<line x1="761.5" y1="898" x2="761.5" y2="903"/>
<line x1="816.5" y1="898" x2="816.5" y2="903"/>
<line x1="871.5" y1="898" x2="871.5" y2="903"/>
<line x1="925.5" y1="898" x2="925.5" y2="903"/>
<line x1="980.5" y1="898" x2="980.5" y2="903"/>
<line x1="1035.5" y1="898" x2="1035.5" y2="903"/>
<line x1="1089.5" y1="898" x2="1089.5" y2="903"/>
<line x1="1144.5" y1="898" x2="1144.5" y2="903"/>
</g>
<g shape-rendering="crispEdges" stroke="#d8d8d8" stroke-width="1">
<line x1="116.5" y1="901" x2="116.5" y2="903"/>
<line x1="127.5" y1="901" x2="127.5" y2="903"/>
<line x1="138.5" y1="901" x2="138.5" y2="903"/>
<line x1="149.5" y1="901" x2="149.5" y2="903"/>
<line x1="171.5" y1="901" x2="171.5" y2="903"/>
<line x1="182.5" y1="901" x2="182.5" y2="903"/>
<line x1="192.5" y1="901" x2="192.5" y2="903"/>
<line x1="203.5" y1="901" x2="203.5" y2="903"/>
<line x1="225.5" y1="901" x2="225.5" y2="903"/>
<line x1="236.5" y1="901" x2="236.5" y2="903"/>
<line x1="247.5" y1="901" x2="247.5" y2="903"/>
<line x1="258.5" y1="901" x2="258.5" y2="903"/>
<line x1="280.5" y1="901" x2="280.5" y2="903"/>
<line x1="291.5" y1="901" x2="291.5" y2="903"/>
<line x1="302.5" y1="901" x2="302.5" y2="903"/>
<line x1="313.5" y1="901" x2="313.5" y2="903"/>
<line x1="335.5" y1="901" x2="335.5" y2="903"/>
<line x1="346.5" y1="901" x2="346.5" y2="903"/>
<line x1="357.5" y1="901" x2="357.5" y2="903"/>
<line x1="367.5" y1="901" x2="367.5" y2="903"/>
<line x1="389.5" y1="901" x2="389.5" y2="903"/>
<line x1="400.5" y1="901" x2="400.5" y2="903"/>
<line x1="411.5" y1="901" x2="411.5" y2="903"/>
<line x1="422.5" y1="901" x2="422.5" y2="903"/>
<line x1="444.5" y1="901" x2="444.5" y2="903"/>
<line x1="455.5" y1="901" x2="455.5" y2="903"/>
<line x1="466.5" y1="901" x2="466.5" y2="903"/>
<line x1="477.5" y1="901" x2="477.5" y2="903"/>
<line x1="499.5" y1="901" x2="499.5" y2="903"/>
<line x1="510.5" y1="901" x2="510.5" y2="903"/>
<line x1="521.5" y1="901" x2="521.5" y2="903"/>
<line x1="532.5" y1="901" x2="532.5" y2="903"/>
<line x1="553.5" y1="901" x2="553.5" y2="903"/>
<line x1="564.5" y1="901" x2="564.5" y2="903"/>
<line x1="575.5" y1="901" x2="575.5" y2="903"/>
<line x1="586.5" y1="901" x2="586.5" y2="903"/>
<line x1="608.5" y1="901" x2="608.5" y2="903"/>
<line x1="619.5" y1="901" x2="619.5" y2="903"/>
<line x1="630.5" y1="901" x2="630.5" y2="903"/>
<line x1="641.5" y1="901" x2="641.5" y2="903"/>
<line x1="663.5" y1="901" x2="663.5" y2="903"/>
<line x1="674.5" y1="901" x2="674.5" y2="903"/>
<line x1="685.5" y1="901" x2="685.5" y2="903"/>
<line x1="696.5" y1="901" x2="696.5" y2="903"/>
<line x1="717.5" y1="901" x2="717.5" y2="903"/>
<line x1="728.5" y1="901" x2="728.5" y2="903"/>
<line x1="739.5" y1="901" x2="739.5" y2="903"/>
<line x1="750.5" y1="901" x2="750.5" y2="903"/>
<line x1="772.5" y1="901" x2="772.5" y2="903"/>
<line x1="783.5" y1="901" x2="783.5" y2="903"/>
<line x1="794.5" y1="901" x2="794.5" y2="903"/>
<line x1="805.5" y1="901" x2="805.5" y2="903"/>
<line x1="827.5" y1="901" x2="827.5" y2="903"/>
<line x1="838.5" y1="901" x2="838.5" y2="903"/>
<line x1="849.5" y1="901" x2="849.5" y2="903"/>
<line x1="860.5" y1="901" x2="860.5" y2="903"/>
<line x1="882.5" y1="901" x2="882.5" y2="903"/>
<line x1="892.5" y1="901" x2="892.5" y2="903"/>
<line x1="903.5" y1="901" x2="903.5" y2="903"/>
<line x1="914.5" y1="901" x2="914.5" y2="903"/>
<line x1="936.5" y1="901" x2="936.5" y2="903"/>
<line x1="947.5" y1="901" x2="947.5" y2="903"/>
<line x1="958.5" y1="901" x2="958.5" y2="903"/>
<line x1="969.5" y1="901" x2="969.5" y2="903"/>
<line x1="991.5" y1="901" x2="991.5" y2="903"/>
<line x1="1002.5" y1="901" x2="1002.5" y2="903"/>
<line x1="1013.5" y1="901" x2="1013.5" y2="903"/>
<line x1="1024.5" y1="901" x2="1024.5" y2="903"/>
<line x1="1046.5" y1="901" x2="1046.5" y2="903"/>
<line x1="1057.5" y1="901" x2="1057.5" y2="903"/>
<line x1="1067.5" y1="901" x2="1067.5" y2="903"/>
<line x1="1078.5" y1="901" x2="1078.5" y2="903"/>
<line x1="1100.5" y1="901" x2="1100.5" y2="903"/>
<line x1="1111.5" y1="901" x2="1111.5" y2="903"/>
<line x1="1122.5" y1="901" x2="1122.5" y2="903"/>
<line x1="1133.5" y1="901" x2="1133.5" y2="903"/>
</g>
<path d="M100.5 712 L104.2 720 L96.8 720 Z" fill="#1c1c1c"/>
<path d="M1162.5 900.5 L1156 897.0 L1156 904.0 Z" fill="#1c1c1c"/>
<rect x="101" y="1130.00" width="1050" height="35.00" fill="#f9f9f9"/>
<rect x="101" y="1060.00" width="1050" height="35.00" fill="#f9f9f9"/>
<g shape-rendering="crispEdges" stroke="#cccccc" stroke-width="1" fill="none">
<line x1="107" y1="1025.5" x2="1151" y2="1025.5" stroke-dasharray="4 4"/>
<line x1="107" y1="1060.5" x2="1151" y2="1060.5" stroke-dasharray="4 4"/>
<line x1="107" y1="1095.5" x2="1151" y2="1095.5" stroke-dasharray="4 4"/>
<line x1="107" y1="1130.5" x2="1151" y2="1130.5" stroke-dasharray="4 4"/>
<line x1="107" y1="1165.5" x2="1151" y2="1165.5" stroke-dasharray="4 4"/>
<line x1="105.5" y1="1025" x2="105.5" y2="1200" stroke-dasharray="4 4" stroke-dashoffset="1"/>
<line x1="116.5" y1="1025" x2="116.5" y2="1200" stroke-dasharray="6 6" stroke-dashoffset="1"/>
<line x1="127.5" y1="1025" x2="127.5" y2="1200" stroke-dasharray="6 6" stroke-dashoffset="1"/>
<line x1="138.5" y1="1025" x2="138.5" y2="1200" stroke-dasharray="6 6" stroke-dashoffset="1"/>
<line x1="149.5" y1="1025" x2="149.5" y2="1200" stroke-dasharray="6 6" stroke-dashoffset="1"/>
<line x1="160.5" y1="1025" x2="160.5" y2="1200" stroke-dasharray="4 4" stroke-dashoffset="1"/>
<line x1="171.5" y1="1025" x2="171.5" y2="1200" stroke-dasharray="6 6" stroke-dashoffset="1"/>
<line x1="182.5" y1="1025" x2="182.5" y2="1200" stroke-dasharray="6 6" stroke-dashoffset="1"/>
<line x1="192.5" y1="1025" x2="192.5" y2="1200" stroke-dasharray="6 6" stroke-dashoffset="1"/>
<line x1="203.5" y1="1025" x2="203.5" y2="1200" stroke-dasharray="6 6" stroke-dashoffset="1"/>
<line x1="214.5" y1="1025" x2="214.5" y2="1200" stroke-dasharray="4 4" stroke-dashoffset="1"/>
<line x1="225.5" y1="1025" x2="225.5" y2="1200" stroke-dasharray="6 6" stroke-dashoffset="1"/>
<line x1="236.5" y1="1025" x2="236.5" y2="1200" stroke-dasharray="6 6" stroke-dashoffset="1"/>
<line x1="247.5" y1="1025" x2="247.5" y2="1200" stroke-dasharray="6 6" stroke-dashoffset="1"/>
<line x1="258.5" y1="1025" x2="258.5" y2="1200" stroke-dasharray="6 6" stroke-dashoffset="1"/>
<line x1="269.5" y1="1025" x2="269.5" y2="1200" stroke-dasharray="4 4" stroke-dashoffset="1"/>
<line x1="280.5" y1="1025" x2="280.5" y2="1200" stroke-dasharray="6 6" stroke-dashoffset="1"/>
<line x1="291.5" y1="1025" x2="291.5" y2="1200" stroke-dasharray="6 6" stroke-dashoffset="1"/>
<line x1="302.5" y1="1025" x2="302.5" y2="1200" stroke-dasharray="6 6" stroke-dashoffset="1"/>
<line x1="313.5" y1="1025" x2="313.5" y2="1200" stroke-dasharray="6 6" stroke-dashoffset="1"/>
<line x1="324.5" y1="1025" x2="324.5" y2="1200" stroke-dasharray="4 4" stroke-dashoffset="1"/>
<line x1="335.5" y1="1025" x2="335.5" y2="1200" stroke-dasharray="6 6" stroke-dashoffset="1"/>
<line x1="346.5" y1="1025" x2="346.5" y2="1200" stroke-dasharray="6 6" stroke-dashoffset="1"/>
<line x1="357.5" y1="1025" x2="357.5" y2="1200" stroke-dasharray="6 6" stroke-dashoffset="1"/>
<line x1="367.5" y1="1025" x2="367.5" y2="1200" stroke-dasharray="6 6" stroke-dashoffset="1"/>
<line x1="378.5" y1="1025" x2="378.5" y2="1200" stroke-dasharray="4 4" stroke-dashoffset="1"/>
<line x1="389.5" y1="1025" x2="389.5" y2="1200" stroke-dasharray="6 6" stroke-dashoffset="1"/>
<line x1="400.5" y1="1025" x2="400.5" y2="1200" stroke-dasharray="6 6" stroke-dashoffset="1"/>
<line x1="411.5" y1="1025" x2="411.5" y2="1200" stroke-dasharray="6 6" stroke-dashoffset="1"/>
<line x1="422.5" y1="1025" x2="422.5" y2="1200" stroke-dasharray="6 6" stroke-dashoffset="1"/>
<line x1="433.5" y1="1025" x2="433.5" y2="1200" stroke-dasharray="4 4" stroke-dashoffset="1"/>
<line x1="444.5" y1="1025" x2="444.5" y2="1200" stroke-dasharray="6 6" stroke-dashoffset="1"/>
<line x1="455.5" y1="1025" x2="455.5" y2="1200" stroke-dasharray="6 6" stroke-dashoffset="1"/>
<line x1="466.5" y1="1025" x2="466.5" y2="1200" stroke-dasharray="6 6" stroke-dashoffset="1"/>
<line x1="477.5" y1="1025" x2="477.5" y2="1200" stroke-dasharray="6 6" stroke-dashoffset="1"/>
<line x1="488.5" y1="1025" x2="488.5" y2="1200" stroke-dasharray="4 4" stroke-dashoffset="1"/>
<line x1="499.5" y1="1025" x2="499.5" y2="1200" stroke-dasharray="6 6" stroke-dashoffset="1"/>
<line x1="510.5" y1="1025" x2="510.5" y2="1200" stroke-dasharray="6 6" stroke-dashoffset="1"/>
<line x1="521.5" y1="1025" x2="521.5" y2="1200" stroke-dasharray="6 6" stroke-dashoffset="1"/>
<line x1="532.5" y1="1025" x2="532.5" y2="1200" stroke-dasharray="6 6" stroke-dashoffset="1"/>
<line x1="542.5" y1="1025" x2="542.5" y2="1200" stroke-dasharray="4 4" stroke-dashoffset="1"/>
<line x1="553.5" y1="1025" x2="553.5" y2="1200" stroke-dasharray="6 6" stroke-dashoffset="1"/>
<line x1="564.5" y1="1025" x2="564.5" y2="1200" stroke-dasharray="6 6" stroke-dashoffset="1"/>
<line x1="575.5" y1="1025" x2="575.5" y2="1200" stroke-dasharray="6 6" stroke-dashoffset="1"/>
<line x1="586.5" y1="1025" x2="586.5" y2="1200" stroke-dasharray="6 6" stroke-dashoffset="1"/>
<line x1="597.5" y1="1025" x2="597.5" y2="1200" stroke-dasharray="4 4" stroke-dashoffset="1"/>
<line x1="608.5" y1="1025" x2="608.5" y2="1200" stroke-dasharray="6 6" stroke-dashoffset="1"/>
<line x1="619.5" y1="1025" x2="619.5" y2="1200" stroke-dasharray="6 6" stroke-dashoffset="1"/>
<line x1="630.5" y1="1025" x2="630.5" y2="1200" stroke-dasharray="6 6" stroke-dashoffset="1"/>
<line x1="641.5" y1="1025" x2="641.5" y2="1200" stroke-dasharray="6 6" stroke-dashoffset="1"/>
<line x1="652.5" y1="1025" x2="652.5" y2="1200" stroke-dasharray="4 4" stroke-dashoffset="1"/>
<line x1="663.5" y1="1025" x2="663.5" y2="1200" stroke-dasharray="6 6" stroke-dashoffset="1"/>
<line x1="674.5" y1="1025" x2="674.5" y2="1200" stroke-dasharray="6 6" stroke-dashoffset="1"/>
<line x1="685.5" y1="1025" x2="685.5" y2="1200" stroke-dasharray="6 6" stroke-dashoffset="1"/>
<line x1="696.5" y1="1025" x2="696.5" y2="1200" stroke-dasharray="6 6" stroke-dashoffset="1"/>
<line x1="707.5" y1="1025" x2="707.5" y2="1200" stroke-dasharray="4 4" stroke-dashoffset="1"/>
<line x1="717.5" y1="1025" x2="717.5" y2="1200" stroke-dasharray="6 6" stroke-dashoffset="1"/>
<line x1="728.5" y1="1025" x2="728.5" y2="1200" stroke-dasharray="6 6" stroke-dashoffset="1"/>
<line x1="739.5" y1="1025" x2="739.5" y2="1200" stroke-dasharray="6 6" stroke-dashoffset="1"/>
<line x1="750.5" y1="1025" x2="750.5" y2="1200" stroke-dasharray="6 6" stroke-dashoffset="1"/>
<line x1="761.5" y1="1025" x2="761.5" y2="1200" stroke-dasharray="4 4" stroke-dashoffset="1"/>
<line x1="772.5" y1="1025" x2="772.5" y2="1200" stroke-dasharray="6 6" stroke-dashoffset="1"/>
<line x1="783.5" y1="1025" x2="783.5" y2="1200" stroke-dasharray="6 6" stroke-dashoffset="1"/>
<line x1="794.5" y1="1025" x2="794.5" y2="1200" stroke-dasharray="6 6" stroke-dashoffset="1"/>
<line x1="805.5" y1="1025" x2="805.5" y2="1200" stroke-dasharray="6 6" stroke-dashoffset="1"/>
<line x1="816.5" y1="1025" x2="816.5" y2="1200" stroke-dasharray="4 4" stroke-dashoffset="1"/>
<line x1="827.5" y1="1025" x2="827.5" y2="1200" stroke-dasharray="6 6" stroke-dashoffset="1"/>
<line x1="838.5" y1="1025" x2="838.5" y2="1200" stroke-dasharray="6 6" stroke-dashoffset="1"/>
<line x1="849.5" y1="1025" x2="849.5" y2="1200" stroke-dasharray="6 6" stroke-dashoffset="1"/>
<line x1="860.5" y1="1025" x2="860.5" y2="1200" stroke-dasharray="6 6" stroke-dashoffset="1"/>
<line x1="871.5" y1="1025" x2="871.5" y2="1200" stroke-dasharray="4 4" stroke-dashoffset="1"/>
<line x1="882.5" y1="1025" x2="882.5" y2="1200" stroke-dasharray="6 6" stroke-dashoffset="1"/>
<line x1="892.5" y1="1025" x2="892.5" y2="1200" stroke-dasharray="6 6" stroke-dashoffset="1"/>
<line x1="903.5" y1="1025" x2="903.5" y2="1200" stroke-dasharray="6 6" stroke-dashoffset="1"/>
<line x1="914.5" y1="1025" x2="914.5" y2="1200" stroke-dasharray="6 6" stroke-dashoffset="1"/>
<line x1="925.5" y1="1025" x2="925.5" y2="1200" stroke-dasharray="4 4" stroke-dashoffset="1"/>
<line x1="936.5" y1="1025" x2="936.5" y2="1200" stroke-dasharray="6 6" stroke-dashoffset="1"/>
<line x1="947.5" y1="1025" x2="947.5" y2="1200" stroke-dasharray="6 6" stroke-dashoffset="1"/>
<line x1="958.5" y1="1025" x2="958.5" y2="1200" stroke-dasharray="6 6" stroke-dashoffset="1"/>
<line x1="969.5" y1="1025" x2="969.5" y2="1200" stroke-dasharray="6 6" stroke-dashoffset="1"/>
<line x1="980.5" y1="1025" x2="980.5" y2="1200" stroke-dasharray="4 4" stroke-dashoffset="1"/>
<line x1="991.5" y1="1025" x2="991.5" y2="1200" stroke-dasharray="6 6" stroke-dashoffset="1"/>
<line x1="1002.5" y1="1025" x2="1002.5" y2="1200" stroke-dasharray="6 6" stroke-dashoffset="1"/>
<line x1="1013.5" y1="1025" x2="1013.5" y2="1200" stroke-dasharray="6 6" stroke-dashoffset="1"/>
<line x1="1024.5" y1="1025" x2="1024.5" y2="1200" stroke-dasharray="6 6" stroke-dashoffset="1"/>
<line x1="1035.5" y1="1025" x2="1035.5" y2="1200" stroke-dasharray="4 4" stroke-dashoffset="1"/>
<line x1="1046.5" y1="1025" x2="1046.5" y2="1200" stroke-dasharray="6 6" stroke-dashoffset="1"/>
<line x1="1057.5" y1="1025" x2="1057.5" y2="1200" stroke-dasharray="6 6" stroke-dashoffset="1"/>
<line x1="1067.5" y1="1025" x2="1067.5" y2="1200" stroke-dasharray="6 6" stroke-dashoffset="1"/>
<line x1="1078.5" y1="1025" x2="1078.5" y2="1200" stroke-dasharray="6 6" stroke-dashoffset="1"/>
<line x1="1089.5" y1="1025" x2="1089.5" y2="1200" stroke-dasharray="4 4" stroke-dashoffset="1"/>
<line x1="1100.5" y1="1025" x2="1100.5" y2="1200" stroke-dasharray="6 6" stroke-dashoffset="1"/>
<line x1="1111.5" y1="1025" x2="1111.5" y2="1200" stroke-dasharray="6 6" stroke-dashoffset="1"/>
<line x1="1122.5" y1="1025" x2="1122.5" y2="1200" stroke-dasharray="6 6" stroke-dashoffset="1"/>
<line x1="1133.5" y1="1025" x2="1133.5" y2="1200" stroke-dasharray="6 6" stroke-dashoffset="1"/>
<line x1="1144.5" y1="1025" x2="1144.5" y2="1200" stroke-dasharray="4 4" stroke-dashoffset="1"/>
</g>
<text x="111.70" y="994.00" font-size="24.4" fill="#000000" textLength="69.30" lengthAdjust="spacingAndGlyphs">Veolia</text>
<text x="190.40" y="994.00" font-size="24.4" fill="#000000" textLength="192.30" lengthAdjust="spacingAndGlyphs">Environnement:</text>
<text x="391.20" y="994.00" font-size="24.4" fill="#000000" textLength="121.55" lengthAdjust="spacingAndGlyphs">graphique</text>
<text x="520.45" y="994.00" font-size="24.4" fill="#000000" textLength="30.05" lengthAdjust="spacingAndGlyphs">du</text>
<text x="560.45" y="994.00" font-size="24.4" fill="#000000" textLength="41.80" lengthAdjust="spacingAndGlyphs">RSI</text>
<text x="611.95" y="994.00" font-size="24.4" fill="#000000" textLength="9.05" lengthAdjust="spacingAndGlyphs">-</text>
<text x="630.45" y="994.00" font-size="24.4" fill="#000000" textLength="95.55" lengthAdjust="spacingAndGlyphs">RSI(14)</text>
<text x="734.95" y="994.00" font-size="24.4" fill="#000000" textLength="9.05" lengthAdjust="spacingAndGlyphs">-</text>
<text x="753.45" y="994.00" font-size="24.4" fill="#000000" textLength="207.55" lengthAdjust="spacingAndGlyphs">AnalyBourse.com</text>
<text transform="translate(55.3,1111.8) rotate(-90)" font-size="11" text-anchor="middle" fill="#000000" textLength="17.63" lengthAdjust="spacingAndGlyphs">RSI</text>
<text x="94.80" y="1028.70" font-size="11" text-anchor="end" fill="#000000" textLength="37.60" lengthAdjust="spacingAndGlyphs" >100.00</text>
<text x="94.80" y="1063.70" font-size="11" text-anchor="end" fill="#000000" textLength="30.76" lengthAdjust="spacingAndGlyphs" >80.00</text>
<text x="94.80" y="1098.70" font-size="11" text-anchor="end" fill="#000000" textLength="30.76" lengthAdjust="spacingAndGlyphs" >60.00</text>
<text x="94.80" y="1133.70" font-size="11" text-anchor="end" fill="#000000" textLength="30.76" lengthAdjust="spacingAndGlyphs" >40.00</text>
<text x="94.80" y="1168.70" font-size="11" text-anchor="end" fill="#000000" textLength="30.76" lengthAdjust="spacingAndGlyphs" >20.00</text>
<text x="94.80" y="1203.70" font-size="11" text-anchor="end" fill="#000000" textLength="23.92" lengthAdjust="spacingAndGlyphs" >0.00</text>
<text x="104.30" y="1212.80" font-size="11" text-anchor="middle" fill="#000000" textLength="34.59" lengthAdjust="spacingAndGlyphs" >23 Avr</text>
<text x="159.30" y="1212.80" font-size="11" text-anchor="middle" fill="#000000" textLength="34.59" lengthAdjust="spacingAndGlyphs" >30 Avr</text>
<text x="213.30" y="1212.80" font-size="11" text-anchor="middle" fill="#000000" textLength="29.07" lengthAdjust="spacingAndGlyphs" >8 Mai</text>
<text x="268.30" y="1212.80" font-size="11" text-anchor="middle" fill="#000000" textLength="35.91" lengthAdjust="spacingAndGlyphs" >15 Mai</text>
<text x="323.30" y="1212.80" font-size="11" text-anchor="middle" fill="#000000" textLength="35.91" lengthAdjust="spacingAndGlyphs" >22 Mai</text>
<text x="377.30" y="1212.80" font-size="11" text-anchor="middle" fill="#000000" textLength="35.91" lengthAdjust="spacingAndGlyphs" >29 Mai</text>
<text x="432.30" y="1212.80" font-size="11" text-anchor="middle" fill="#000000" textLength="30.00" lengthAdjust="spacingAndGlyphs" >5 Juin</text>
<text x="487.30" y="1212.80" font-size="11" text-anchor="middle" fill="#000000" textLength="36.84" lengthAdjust="spacingAndGlyphs" >12 Juin</text>
<text x="541.30" y="1212.80" font-size="11" text-anchor="middle" fill="#000000" textLength="36.84" lengthAdjust="spacingAndGlyphs" >19 Juin</text>
<text x="596.30" y="1212.80" font-size="11" text-anchor="middle" fill="#000000" textLength="36.84" lengthAdjust="spacingAndGlyphs" >26 Juin</text>
<text x="651.30" y="1212.80" font-size="11" text-anchor="middle" fill="#000000" textLength="26.18" lengthAdjust="spacingAndGlyphs" >3 Juil</text>
<text x="706.30" y="1212.80" font-size="11" text-anchor="middle" fill="#000000" textLength="33.01" lengthAdjust="spacingAndGlyphs" >10 Juil</text>
<text x="760.30" y="1212.80" font-size="11" text-anchor="middle" fill="#000000" textLength="33.01" lengthAdjust="spacingAndGlyphs" >17 Juil</text>
<text x="815.30" y="1212.80" font-size="11" text-anchor="middle" fill="#000000" textLength="33.01" lengthAdjust="spacingAndGlyphs" >24 Juil</text>
<text x="870.30" y="1212.80" font-size="11" text-anchor="middle" fill="#000000" textLength="33.01" lengthAdjust="spacingAndGlyphs" >31 Juil</text>
<text x="924.30" y="1212.80" font-size="11" text-anchor="middle" fill="#000000" textLength="35.00" lengthAdjust="spacingAndGlyphs" >7 Août</text>
<text x="979.30" y="1212.80" font-size="11" text-anchor="middle" fill="#000000" textLength="41.83" lengthAdjust="spacingAndGlyphs" >14 Août</text>
<text x="1034.30" y="1212.80" font-size="11" text-anchor="middle" fill="#000000" textLength="41.83" lengthAdjust="spacingAndGlyphs" >21 Août</text>
<text x="1088.30" y="1212.80" font-size="11" text-anchor="middle" fill="#000000" textLength="41.83" lengthAdjust="spacingAndGlyphs" >28 Août</text>
<text x="1143.30" y="1212.80" font-size="11" text-anchor="middle" fill="#000000" textLength="34.71" lengthAdjust="spacingAndGlyphs" >4 Sept</text>
<text x="624.00" y="1226.80" font-size="11" text-anchor="middle" fill="#000000" textLength="247.50" lengthAdjust="spacingAndGlyphs" >Date (du 23 Avril 2020 au 4 Septembre 2020)</text>
<line x1="105" y1="1112.5" x2="1145" y2="1112.5" stroke="#646464" stroke-width="1" shape-rendering="crispEdges"/>
<path fill="none" stroke="#ff3c3c" stroke-width="1" d="M105.5,1120.50 C106.42,1120.56 114.67,1121.96 116.50,1121.25 C118.33,1120.54 125.67,1112.67 127.50,1112.00 C129.33,1111.33 136.67,1113.79 138.50,1113.25 C140.33,1112.71 147.67,1105.60 149.50,1105.50 C151.33,1105.40 158.67,1110.69 160.50,1112.00 C162.33,1113.31 169.67,1121.21 171.50,1121.25 C173.33,1121.29 180.75,1112.92 182.50,1112.50 C184.25,1112.08 190.75,1115.94 192.50,1116.25 C194.25,1116.56 201.67,1116.81 203.50,1116.25 C205.33,1115.69 212.67,1109.65 214.50,1109.50 C216.33,1109.35 223.67,1113.83 225.50,1114.50 C227.33,1115.17 234.67,1116.69 236.50,1117.50 C238.33,1118.31 245.67,1123.52 247.50,1124.25 C249.33,1124.98 256.67,1126.19 258.50,1126.25 C260.33,1126.31 267.67,1126.10 269.50,1125.00 C271.33,1123.90 278.67,1113.25 280.50,1113.00 C282.33,1112.75 289.67,1121.25 291.50,1122.00 C293.33,1122.75 300.67,1122.00 302.50,1122.00 C304.33,1122.00 311.67,1121.88 313.50,1122.00 C315.33,1122.12 322.67,1123.71 324.50,1123.50 C326.33,1123.29 333.67,1120.88 335.50,1119.50 C337.33,1118.12 344.67,1108.46 346.50,1107.00 C348.33,1105.54 355.75,1102.75 357.50,1102.00 C359.25,1101.25 365.75,1097.90 367.50,1098.00 C369.25,1098.10 376.67,1102.98 378.50,1103.25 C380.33,1103.52 387.67,1102.31 389.50,1101.25 C391.33,1100.19 398.67,1092.10 400.50,1090.50 C402.33,1088.90 409.67,1082.35 411.50,1082.00 C413.33,1081.65 420.67,1086.42 422.50,1086.25 C424.33,1086.08 431.67,1080.15 433.50,1080.00 C435.33,1079.85 442.67,1083.54 444.50,1084.50 C446.33,1085.46 453.67,1091.21 455.50,1091.50 C457.33,1091.79 464.67,1086.50 466.50,1088.00 C468.33,1089.50 475.67,1107.81 477.50,1109.50 C479.33,1111.19 486.67,1108.25 488.50,1108.25 C490.33,1108.25 497.67,1110.08 499.50,1109.50 C501.33,1108.92 508.67,1101.88 510.50,1101.25 C512.33,1100.62 519.67,1101.65 521.50,1102.00 C523.33,1102.35 530.75,1105.21 532.50,1105.50 C534.25,1105.79 540.75,1105.27 542.50,1105.50 C544.25,1105.73 551.67,1108.12 553.50,1108.25 C555.33,1108.38 562.67,1106.17 564.50,1107.00 C566.33,1107.83 573.67,1117.40 575.50,1118.25 C577.33,1119.10 584.67,1117.25 586.50,1117.25 C588.33,1117.25 595.67,1118.60 597.50,1118.25 C599.33,1117.90 606.67,1113.06 608.50,1113.00 C610.33,1112.94 617.67,1116.71 619.50,1117.50 C621.33,1118.29 628.67,1122.77 630.50,1122.50 C632.33,1122.23 639.67,1114.98 641.50,1114.25 C643.33,1113.52 650.67,1113.75 652.50,1113.75 C654.33,1113.75 661.67,1114.02 663.50,1114.25 C665.33,1114.48 672.67,1116.27 674.50,1116.50 C676.33,1116.73 683.67,1115.60 685.50,1117.00 C687.33,1118.40 694.67,1132.54 696.50,1133.25 C698.33,1133.96 705.75,1126.15 707.50,1125.50 C709.25,1124.85 715.75,1125.00 717.50,1125.50 C719.25,1126.00 726.67,1132.00 728.50,1131.50 C730.33,1131.00 737.67,1120.29 739.50,1119.50 C741.33,1118.71 748.67,1121.42 750.50,1122.00 C752.33,1122.58 759.67,1126.35 761.50,1126.50 C763.33,1126.65 770.67,1124.65 772.50,1123.75 C774.33,1122.85 781.67,1117.27 783.50,1115.75 C785.33,1114.23 792.67,1105.81 794.50,1105.50 C796.33,1105.19 803.67,1110.90 805.50,1112.00 C807.33,1113.10 814.67,1118.19 816.50,1118.75 C818.33,1119.31 825.67,1119.48 827.50,1118.75 C829.33,1118.02 836.67,1111.40 838.50,1110.00 C840.33,1108.60 847.67,1101.17 849.50,1102.00 C851.33,1102.83 858.67,1118.08 860.50,1120.00 C862.33,1121.92 869.67,1124.44 871.50,1125.00 C873.33,1125.56 880.75,1126.71 882.50,1126.75 C884.25,1126.79 890.75,1125.60 892.50,1125.50 C894.25,1125.40 901.67,1125.44 903.50,1125.50 C905.33,1125.56 912.67,1126.75 914.50,1126.25 C916.33,1125.75 923.67,1120.75 925.50,1119.50 C927.33,1118.25 934.67,1112.71 936.50,1111.25 C938.33,1109.79 945.67,1103.50 947.50,1102.00 C949.33,1100.50 956.67,1094.04 958.50,1093.25 C960.33,1092.46 967.67,1091.35 969.50,1092.50 C971.33,1093.65 978.67,1105.23 980.50,1107.00 C982.33,1108.77 989.67,1112.15 991.50,1113.75 C993.33,1115.35 1000.67,1125.31 1002.50,1126.25 C1004.33,1127.19 1011.67,1124.17 1013.50,1125.00 C1015.33,1125.83 1022.67,1135.73 1024.50,1136.25 C1026.33,1136.77 1033.67,1133.06 1035.50,1131.25 C1037.33,1129.44 1044.67,1115.60 1046.50,1114.50 C1048.33,1113.40 1055.75,1117.65 1057.50,1118.00 C1059.25,1118.35 1065.75,1118.29 1067.50,1118.75 C1069.25,1119.21 1076.67,1123.19 1078.50,1123.50 C1080.33,1123.81 1087.67,1124.60 1089.50,1122.50 C1091.33,1120.40 1098.67,1099.19 1100.50,1098.25 C1102.33,1097.31 1109.67,1111.06 1111.50,1111.25 C1113.33,1111.44 1120.67,1101.12 1122.50,1100.50 C1124.33,1099.88 1131.67,1102.69 1133.50,1103.75 C1135.33,1104.81 1143.58,1112.46 1144.50,1113.25"/>
<g shape-rendering="crispEdges" stroke="#1c1c1c" stroke-width="1" fill="none">
<line x1="100.5" y1="1019" x2="100.5" y2="1201"/>
<line x1="98" y1="1200.5" x2="1163" y2="1200.5"/>
<line x1="98" y1="1025.5" x2="103" y2="1025.5"/>
<line x1="98" y1="1060.5" x2="103" y2="1060.5"/>
<line x1="98" y1="1095.5" x2="103" y2="1095.5"/>
<line x1="98" y1="1130.5" x2="103" y2="1130.5"/>
<line x1="98" y1="1165.5" x2="103" y2="1165.5"/>
<line x1="98" y1="1200.5" x2="103" y2="1200.5"/>
<line x1="105.5" y1="1198" x2="105.5" y2="1203"/>
<line x1="160.5" y1="1198" x2="160.5" y2="1203"/>
<line x1="214.5" y1="1198" x2="214.5" y2="1203"/>
<line x1="269.5" y1="1198" x2="269.5" y2="1203"/>
<line x1="324.5" y1="1198" x2="324.5" y2="1203"/>
<line x1="378.5" y1="1198" x2="378.5" y2="1203"/>
<line x1="433.5" y1="1198" x2="433.5" y2="1203"/>
<line x1="488.5" y1="1198" x2="488.5" y2="1203"/>
<line x1="542.5" y1="1198" x2="542.5" y2="1203"/>
<line x1="597.5" y1="1198" x2="597.5" y2="1203"/>
<line x1="652.5" y1="1198" x2="652.5" y2="1203"/>
<line x1="707.5" y1="1198" x2="707.5" y2="1203"/>
<line x1="761.5" y1="1198" x2="761.5" y2="1203"/>
<line x1="816.5" y1="1198" x2="816.5" y2="1203"/>
<line x1="871.5" y1="1198" x2="871.5" y2="1203"/>
<line x1="925.5" y1="1198" x2="925.5" y2="1203"/>
<line x1="980.5" y1="1198" x2="980.5" y2="1203"/>
<line x1="1035.5" y1="1198" x2="1035.5" y2="1203"/>
<line x1="1089.5" y1="1198" x2="1089.5" y2="1203"/>
<line x1="1144.5" y1="1198" x2="1144.5" y2="1203"/>
</g>
<g shape-rendering="crispEdges" stroke="#d8d8d8" stroke-width="1">
<line x1="116.5" y1="1201" x2="116.5" y2="1203"/>
<line x1="127.5" y1="1201" x2="127.5" y2="1203"/>
<line x1="138.5" y1="1201" x2="138.5" y2="1203"/>
<line x1="149.5" y1="1201" x2="149.5" y2="1203"/>
<line x1="171.5" y1="1201" x2="171.5" y2="1203"/>
<line x1="182.5" y1="1201" x2="182.5" y2="1203"/>
<line x1="192.5" y1="1201" x2="192.5" y2="1203"/>
<line x1="203.5" y1="1201" x2="203.5" y2="1203"/>
<line x1="225.5" y1="1201" x2="225.5" y2="1203"/>
<line x1="236.5" y1="1201" x2="236.5" y2="1203"/>
<line x1="247.5" y1="1201" x2="247.5" y2="1203"/>
<line x1="258.5" y1="1201" x2="258.5" y2="1203"/>
<line x1="280.5" y1="1201" x2="280.5" y2="1203"/>
<line x1="291.5" y1="1201" x2="291.5" y2="1203"/>
<line x1="302.5" y1="1201" x2="302.5" y2="1203"/>
<line x1="313.5" y1="1201" x2="313.5" y2="1203"/>
<line x1="335.5" y1="1201" x2="335.5" y2="1203"/>
<line x1="346.5" y1="1201" x2="346.5" y2="1203"/>
<line x1="357.5" y1="1201" x2="357.5" y2="1203"/>
<line x1="367.5" y1="1201" x2="367.5" y2="1203"/>
<line x1="389.5" y1="1201" x2="389.5" y2="1203"/>
<line x1="400.5" y1="1201" x2="400.5" y2="1203"/>
<line x1="411.5" y1="1201" x2="411.5" y2="1203"/>
<line x1="422.5" y1="1201" x2="422.5" y2="1203"/>
<line x1="444.5" y1="1201" x2="444.5" y2="1203"/>
<line x1="455.5" y1="1201" x2="455.5" y2="1203"/>
<line x1="466.5" y1="1201" x2="466.5" y2="1203"/>
<line x1="477.5" y1="1201" x2="477.5" y2="1203"/>
<line x1="499.5" y1="1201" x2="499.5" y2="1203"/>
<line x1="510.5" y1="1201" x2="510.5" y2="1203"/>
<line x1="521.5" y1="1201" x2="521.5" y2="1203"/>
<line x1="532.5" y1="1201" x2="532.5" y2="1203"/>
<line x1="553.5" y1="1201" x2="553.5" y2="1203"/>
<line x1="564.5" y1="1201" x2="564.5" y2="1203"/>
<line x1="575.5" y1="1201" x2="575.5" y2="1203"/>
<line x1="586.5" y1="1201" x2="586.5" y2="1203"/>
<line x1="608.5" y1="1201" x2="608.5" y2="1203"/>
<line x1="619.5" y1="1201" x2="619.5" y2="1203"/>
<line x1="630.5" y1="1201" x2="630.5" y2="1203"/>
<line x1="641.5" y1="1201" x2="641.5" y2="1203"/>
<line x1="663.5" y1="1201" x2="663.5" y2="1203"/>
<line x1="674.5" y1="1201" x2="674.5" y2="1203"/>
<line x1="685.5" y1="1201" x2="685.5" y2="1203"/>
<line x1="696.5" y1="1201" x2="696.5" y2="1203"/>
<line x1="717.5" y1="1201" x2="717.5" y2="1203"/>
<line x1="728.5" y1="1201" x2="728.5" y2="1203"/>
<line x1="739.5" y1="1201" x2="739.5" y2="1203"/>
<line x1="750.5" y1="1201" x2="750.5" y2="1203"/>
<line x1="772.5" y1="1201" x2="772.5" y2="1203"/>
<line x1="783.5" y1="1201" x2="783.5" y2="1203"/>
<line x1="794.5" y1="1201" x2="794.5" y2="1203"/>
<line x1="805.5" y1="1201" x2="805.5" y2="1203"/>
<line x1="827.5" y1="1201" x2="827.5" y2="1203"/>
<line x1="838.5" y1="1201" x2="838.5" y2="1203"/>
<line x1="849.5" y1="1201" x2="849.5" y2="1203"/>
<line x1="860.5" y1="1201" x2="860.5" y2="1203"/>
<line x1="882.5" y1="1201" x2="882.5" y2="1203"/>
<line x1="892.5" y1="1201" x2="892.5" y2="1203"/>
<line x1="903.5" y1="1201" x2="903.5" y2="1203"/>
<line x1="914.5" y1="1201" x2="914.5" y2="1203"/>
<line x1="936.5" y1="1201" x2="936.5" y2="1203"/>
<line x1="947.5" y1="1201" x2="947.5" y2="1203"/>
<line x1="958.5" y1="1201" x2="958.5" y2="1203"/>
<line x1="969.5" y1="1201" x2="969.5" y2="1203"/>
<line x1="991.5" y1="1201" x2="991.5" y2="1203"/>
<line x1="1002.5" y1="1201" x2="1002.5" y2="1203"/>
<line x1="1013.5" y1="1201" x2="1013.5" y2="1203"/>
<line x1="1024.5" y1="1201" x2="1024.5" y2="1203"/>
<line x1="1046.5" y1="1201" x2="1046.5" y2="1203"/>
<line x1="1057.5" y1="1201" x2="1057.5" y2="1203"/>
<line x1="1067.5" y1="1201" x2="1067.5" y2="1203"/>
<line x1="1078.5" y1="1201" x2="1078.5" y2="1203"/>
<line x1="1100.5" y1="1201" x2="1100.5" y2="1203"/>
<line x1="1111.5" y1="1201" x2="1111.5" y2="1203"/>
<line x1="1122.5" y1="1201" x2="1122.5" y2="1203"/>
<line x1="1133.5" y1="1201" x2="1133.5" y2="1203"/>
</g>
<path d="M100.5 1012 L104.2 1020 L96.8 1020 Z" fill="#1c1c1c"/>
<path d="M1162.5 1200.5 L1156 1197.0 L1156 1204.0 Z" fill="#1c1c1c"/>
<rect x="101" y="1441.67" width="1050" height="29.17" fill="#f9f9f9"/>
<rect x="101" y="1383.33" width="1050" height="29.17" fill="#f9f9f9"/>
<rect x="101" y="1325.00" width="1050" height="29.17" fill="#f9f9f9"/>
<g shape-rendering="crispEdges" stroke="#cccccc" stroke-width="1" fill="none">
<line x1="107" y1="1325.5" x2="1151" y2="1325.5" stroke-dasharray="4 4"/>
<line x1="107" y1="1354.5" x2="1151" y2="1354.5" stroke-dasharray="4 4"/>
<line x1="107" y1="1383.5" x2="1151" y2="1383.5" stroke-dasharray="4 4"/>
<line x1="107" y1="1412.5" x2="1151" y2="1412.5" stroke-dasharray="4 4"/>
<line x1="107" y1="1441.5" x2="1151" y2="1441.5" stroke-dasharray="4 4"/>
<line x1="107" y1="1470.5" x2="1151" y2="1470.5" stroke-dasharray="4 4"/>
<line x1="105.5" y1="1325" x2="105.5" y2="1500" stroke-dasharray="4 4" stroke-dashoffset="1"/>
<line x1="116.5" y1="1325" x2="116.5" y2="1500" stroke-dasharray="6 6" stroke-dashoffset="1"/>
<line x1="127.5" y1="1325" x2="127.5" y2="1500" stroke-dasharray="6 6" stroke-dashoffset="1"/>
<line x1="138.5" y1="1325" x2="138.5" y2="1500" stroke-dasharray="6 6" stroke-dashoffset="1"/>
<line x1="149.5" y1="1325" x2="149.5" y2="1500" stroke-dasharray="6 6" stroke-dashoffset="1"/>
<line x1="160.5" y1="1325" x2="160.5" y2="1500" stroke-dasharray="4 4" stroke-dashoffset="1"/>
<line x1="171.5" y1="1325" x2="171.5" y2="1500" stroke-dasharray="6 6" stroke-dashoffset="1"/>
<line x1="182.5" y1="1325" x2="182.5" y2="1500" stroke-dasharray="6 6" stroke-dashoffset="1"/>
<line x1="192.5" y1="1325" x2="192.5" y2="1500" stroke-dasharray="6 6" stroke-dashoffset="1"/>
<line x1="203.5" y1="1325" x2="203.5" y2="1500" stroke-dasharray="6 6" stroke-dashoffset="1"/>
<line x1="214.5" y1="1325" x2="214.5" y2="1500" stroke-dasharray="4 4" stroke-dashoffset="1"/>
<line x1="225.5" y1="1325" x2="225.5" y2="1500" stroke-dasharray="6 6" stroke-dashoffset="1"/>
<line x1="236.5" y1="1325" x2="236.5" y2="1500" stroke-dasharray="6 6" stroke-dashoffset="1"/>
<line x1="247.5" y1="1325" x2="247.5" y2="1500" stroke-dasharray="6 6" stroke-dashoffset="1"/>
<line x1="258.5" y1="1325" x2="258.5" y2="1500" stroke-dasharray="6 6" stroke-dashoffset="1"/>
<line x1="269.5" y1="1325" x2="269.5" y2="1500" stroke-dasharray="4 4" stroke-dashoffset="1"/>
<line x1="280.5" y1="1325" x2="280.5" y2="1500" stroke-dasharray="6 6" stroke-dashoffset="1"/>
<line x1="291.5" y1="1325" x2="291.5" y2="1500" stroke-dasharray="6 6" stroke-dashoffset="1"/>
<line x1="302.5" y1="1325" x2="302.5" y2="1500" stroke-dasharray="6 6" stroke-dashoffset="1"/>
<line x1="313.5" y1="1325" x2="313.5" y2="1500" stroke-dasharray="6 6" stroke-dashoffset="1"/>
<line x1="324.5" y1="1325" x2="324.5" y2="1500" stroke-dasharray="4 4" stroke-dashoffset="1"/>
<line x1="335.5" y1="1325" x2="335.5" y2="1500" stroke-dasharray="6 6" stroke-dashoffset="1"/>
<line x1="346.5" y1="1325" x2="346.5" y2="1500" stroke-dasharray="6 6" stroke-dashoffset="1"/>
<line x1="357.5" y1="1325" x2="357.5" y2="1500" stroke-dasharray="6 6" stroke-dashoffset="1"/>
<line x1="367.5" y1="1325" x2="367.5" y2="1500" stroke-dasharray="6 6" stroke-dashoffset="1"/>
<line x1="378.5" y1="1325" x2="378.5" y2="1500" stroke-dasharray="4 4" stroke-dashoffset="1"/>
<line x1="389.5" y1="1325" x2="389.5" y2="1500" stroke-dasharray="6 6" stroke-dashoffset="1"/>
<line x1="400.5" y1="1325" x2="400.5" y2="1500" stroke-dasharray="6 6" stroke-dashoffset="1"/>
<line x1="411.5" y1="1325" x2="411.5" y2="1500" stroke-dasharray="6 6" stroke-dashoffset="1"/>
<line x1="422.5" y1="1325" x2="422.5" y2="1500" stroke-dasharray="6 6" stroke-dashoffset="1"/>
<line x1="433.5" y1="1325" x2="433.5" y2="1500" stroke-dasharray="4 4" stroke-dashoffset="1"/>
<line x1="444.5" y1="1325" x2="444.5" y2="1500" stroke-dasharray="6 6" stroke-dashoffset="1"/>
<line x1="455.5" y1="1325" x2="455.5" y2="1500" stroke-dasharray="6 6" stroke-dashoffset="1"/>
<line x1="466.5" y1="1325" x2="466.5" y2="1500" stroke-dasharray="6 6" stroke-dashoffset="1"/>
<line x1="477.5" y1="1325" x2="477.5" y2="1500" stroke-dasharray="6 6" stroke-dashoffset="1"/>
<line x1="488.5" y1="1325" x2="488.5" y2="1500" stroke-dasharray="4 4" stroke-dashoffset="1"/>
<line x1="499.5" y1="1325" x2="499.5" y2="1500" stroke-dasharray="6 6" stroke-dashoffset="1"/>
<line x1="510.5" y1="1325" x2="510.5" y2="1500" stroke-dasharray="6 6" stroke-dashoffset="1"/>
<line x1="521.5" y1="1325" x2="521.5" y2="1500" stroke-dasharray="6 6" stroke-dashoffset="1"/>
<line x1="532.5" y1="1325" x2="532.5" y2="1500" stroke-dasharray="6 6" stroke-dashoffset="1"/>
<line x1="542.5" y1="1325" x2="542.5" y2="1500" stroke-dasharray="4 4" stroke-dashoffset="1"/>
<line x1="553.5" y1="1325" x2="553.5" y2="1500" stroke-dasharray="6 6" stroke-dashoffset="1"/>
<line x1="564.5" y1="1325" x2="564.5" y2="1500" stroke-dasharray="6 6" stroke-dashoffset="1"/>
<line x1="575.5" y1="1325" x2="575.5" y2="1500" stroke-dasharray="6 6" stroke-dashoffset="1"/>
<line x1="586.5" y1="1325" x2="586.5" y2="1500" stroke-dasharray="6 6" stroke-dashoffset="1"/>
<line x1="597.5" y1="1325" x2="597.5" y2="1500" stroke-dasharray="4 4" stroke-dashoffset="1"/>
<line x1="608.5" y1="1325" x2="608.5" y2="1500" stroke-dasharray="6 6" stroke-dashoffset="1"/>
<line x1="619.5" y1="1325" x2="619.5" y2="1500" stroke-dasharray="6 6" stroke-dashoffset="1"/>
<line x1="630.5" y1="1325" x2="630.5" y2="1500" stroke-dasharray="6 6" stroke-dashoffset="1"/>
<line x1="641.5" y1="1325" x2="641.5" y2="1500" stroke-dasharray="6 6" stroke-dashoffset="1"/>
<line x1="652.5" y1="1325" x2="652.5" y2="1500" stroke-dasharray="4 4" stroke-dashoffset="1"/>
<line x1="663.5" y1="1325" x2="663.5" y2="1500" stroke-dasharray="6 6" stroke-dashoffset="1"/>
<line x1="674.5" y1="1325" x2="674.5" y2="1500" stroke-dasharray="6 6" stroke-dashoffset="1"/>
<line x1="685.5" y1="1325" x2="685.5" y2="1500" stroke-dasharray="6 6" stroke-dashoffset="1"/>
<line x1="696.5" y1="1325" x2="696.5" y2="1500" stroke-dasharray="6 6" stroke-dashoffset="1"/>
<line x1="707.5" y1="1325" x2="707.5" y2="1500" stroke-dasharray="4 4" stroke-dashoffset="1"/>
<line x1="717.5" y1="1325" x2="717.5" y2="1500" stroke-dasharray="6 6" stroke-dashoffset="1"/>
<line x1="728.5" y1="1325" x2="728.5" y2="1500" stroke-dasharray="6 6" stroke-dashoffset="1"/>
<line x1="739.5" y1="1325" x2="739.5" y2="1500" stroke-dasharray="6 6" stroke-dashoffset="1"/>
<line x1="750.5" y1="1325" x2="750.5" y2="1500" stroke-dasharray="6 6" stroke-dashoffset="1"/>
<line x1="761.5" y1="1325" x2="761.5" y2="1500" stroke-dasharray="4 4" stroke-dashoffset="1"/>
<line x1="772.5" y1="1325" x2="772.5" y2="1500" stroke-dasharray="6 6" stroke-dashoffset="1"/>
<line x1="783.5" y1="1325" x2="783.5" y2="1500" stroke-dasharray="6 6" stroke-dashoffset="1"/>
<line x1="794.5" y1="1325" x2="794.5" y2="1500" stroke-dasharray="6 6" stroke-dashoffset="1"/>
<line x1="805.5" y1="1325" x2="805.5" y2="1500" stroke-dasharray="6 6" stroke-dashoffset="1"/>
<line x1="816.5" y1="1325" x2="816.5" y2="1500" stroke-dasharray="4 4" stroke-dashoffset="1"/>
<line x1="827.5" y1="1325" x2="827.5" y2="1500" stroke-dasharray="6 6" stroke-dashoffset="1"/>
<line x1="838.5" y1="1325" x2="838.5" y2="1500" stroke-dasharray="6 6" stroke-dashoffset="1"/>
<line x1="849.5" y1="1325" x2="849.5" y2="1500" stroke-dasharray="6 6" stroke-dashoffset="1"/>
<line x1="860.5" y1="1325" x2="860.5" y2="1500" stroke-dasharray="6 6" stroke-dashoffset="1"/>
<line x1="871.5" y1="1325" x2="871.5" y2="1500" stroke-dasharray="4 4" stroke-dashoffset="1"/>
<line x1="882.5" y1="1325" x2="882.5" y2="1500" stroke-dasharray="6 6" stroke-dashoffset="1"/>
<line x1="892.5" y1="1325" x2="892.5" y2="1500" stroke-dasharray="6 6" stroke-dashoffset="1"/>
<line x1="903.5" y1="1325" x2="903.5" y2="1500" stroke-dasharray="6 6" stroke-dashoffset="1"/>
<line x1="914.5" y1="1325" x2="914.5" y2="1500" stroke-dasharray="6 6" stroke-dashoffset="1"/>
<line x1="925.5" y1="1325" x2="925.5" y2="1500" stroke-dasharray="4 4" stroke-dashoffset="1"/>
<line x1="936.5" y1="1325" x2="936.5" y2="1500" stroke-dasharray="6 6" stroke-dashoffset="1"/>
<line x1="947.5" y1="1325" x2="947.5" y2="1500" stroke-dasharray="6 6" stroke-dashoffset="1"/>
<line x1="958.5" y1="1325" x2="958.5" y2="1500" stroke-dasharray="6 6" stroke-dashoffset="1"/>
<line x1="969.5" y1="1325" x2="969.5" y2="1500" stroke-dasharray="6 6" stroke-dashoffset="1"/>
<line x1="980.5" y1="1325" x2="980.5" y2="1500" stroke-dasharray="4 4" stroke-dashoffset="1"/>
<line x1="991.5" y1="1325" x2="991.5" y2="1500" stroke-dasharray="6 6" stroke-dashoffset="1"/>
<line x1="1002.5" y1="1325" x2="1002.5" y2="1500" stroke-dasharray="6 6" stroke-dashoffset="1"/>
<line x1="1013.5" y1="1325" x2="1013.5" y2="1500" stroke-dasharray="6 6" stroke-dashoffset="1"/>
<line x1="1024.5" y1="1325" x2="1024.5" y2="1500" stroke-dasharray="6 6" stroke-dashoffset="1"/>
<line x1="1035.5" y1="1325" x2="1035.5" y2="1500" stroke-dasharray="4 4" stroke-dashoffset="1"/>
<line x1="1046.5" y1="1325" x2="1046.5" y2="1500" stroke-dasharray="6 6" stroke-dashoffset="1"/>
<line x1="1057.5" y1="1325" x2="1057.5" y2="1500" stroke-dasharray="6 6" stroke-dashoffset="1"/>
<line x1="1067.5" y1="1325" x2="1067.5" y2="1500" stroke-dasharray="6 6" stroke-dashoffset="1"/>
<line x1="1078.5" y1="1325" x2="1078.5" y2="1500" stroke-dasharray="6 6" stroke-dashoffset="1"/>
<line x1="1089.5" y1="1325" x2="1089.5" y2="1500" stroke-dasharray="4 4" stroke-dashoffset="1"/>
<line x1="1100.5" y1="1325" x2="1100.5" y2="1500" stroke-dasharray="6 6" stroke-dashoffset="1"/>
<line x1="1111.5" y1="1325" x2="1111.5" y2="1500" stroke-dasharray="6 6" stroke-dashoffset="1"/>
<line x1="1122.5" y1="1325" x2="1122.5" y2="1500" stroke-dasharray="6 6" stroke-dashoffset="1"/>
<line x1="1133.5" y1="1325" x2="1133.5" y2="1500" stroke-dasharray="6 6" stroke-dashoffset="1"/>
<line x1="1144.5" y1="1325" x2="1144.5" y2="1500" stroke-dasharray="4 4" stroke-dashoffset="1"/>
</g>
<text x="111.70" y="1294.00" font-size="24.4" fill="#000000" textLength="69.30" lengthAdjust="spacingAndGlyphs">Veolia</text>
<text x="190.40" y="1294.00" font-size="24.4" fill="#000000" textLength="192.30" lengthAdjust="spacingAndGlyphs">Environnement:</text>
<text x="391.20" y="1294.00" font-size="24.4" fill="#000000" textLength="121.55" lengthAdjust="spacingAndGlyphs">graphique</text>
<text x="520.45" y="1294.00" font-size="24.4" fill="#000000" textLength="30.05" lengthAdjust="spacingAndGlyphs">du</text>
<text x="560.45" y="1294.00" font-size="24.4" fill="#000000" textLength="71.30" lengthAdjust="spacingAndGlyphs">MACD</text>
<text x="641.20" y="1294.00" font-size="24.4" fill="#000000" textLength="9.05" lengthAdjust="spacingAndGlyphs">-</text>
<text x="659.45" y="1294.00" font-size="24.4" fill="#000000" textLength="186.05" lengthAdjust="spacingAndGlyphs">MACD(12,26,9)</text>
<text x="855.70" y="1294.00" font-size="24.4" fill="#000000" textLength="9.05" lengthAdjust="spacingAndGlyphs">-</text>
<text x="873.95" y="1294.00" font-size="24.4" fill="#000000" textLength="207.80" lengthAdjust="spacingAndGlyphs">AnalyBourse.com</text>
<text transform="translate(63.0,1412.5) rotate(-90)" font-size="11" text-anchor="middle" fill="#000000" textLength="32.51" lengthAdjust="spacingAndGlyphs">MACD</text>
<text x="94.80" y="1328.70" font-size="11" text-anchor="end" fill="#000000" textLength="23.92" lengthAdjust="spacingAndGlyphs" >0.40</text>
<text x="94.80" y="1357.87" font-size="11" text-anchor="end" fill="#000000" textLength="23.92" lengthAdjust="spacingAndGlyphs" >0.30</text>
<text x="94.80" y="1387.03" font-size="11" text-anchor="end" fill="#000000" textLength="23.92" lengthAdjust="spacingAndGlyphs" >0.20</text>
<text x="94.80" y="1416.20" font-size="11" text-anchor="end" fill="#000000" textLength="23.92" lengthAdjust="spacingAndGlyphs" >0.10</text>
<text x="94.80" y="1445.37" font-size="11" text-anchor="end" fill="#000000" textLength="23.92" lengthAdjust="spacingAndGlyphs" >0.00</text>
<text x="94.80" y="1474.53" font-size="11" text-anchor="end" fill="#000000" textLength="27.80" lengthAdjust="spacingAndGlyphs" >-0.10</text>
<text x="94.80" y="1503.70" font-size="11" text-anchor="end" fill="#000000" textLength="27.80" lengthAdjust="spacingAndGlyphs" >-0.20</text>
<text x="104.30" y="1512.80" font-size="11" text-anchor="middle" fill="#000000" textLength="34.59" lengthAdjust="spacingAndGlyphs" >23 Avr</text>
<text x="159.30" y="1512.80" font-size="11" text-anchor="middle" fill="#000000" textLength="34.59" lengthAdjust="spacingAndGlyphs" >30 Avr</text>
<text x="213.30" y="1512.80" font-size="11" text-anchor="middle" fill="#000000" textLength="29.07" lengthAdjust="spacingAndGlyphs" >8 Mai</text>
<text x="268.30" y="1512.80" font-size="11" text-anchor="middle" fill="#000000" textLength="35.91" lengthAdjust="spacingAndGlyphs" >15 Mai</text>
<text x="323.30" y="1512.80" font-size="11" text-anchor="middle" fill="#000000" textLength="35.91" lengthAdjust="spacingAndGlyphs" >22 Mai</text>
<text x="377.30" y="1512.80" font-size="11" text-anchor="middle" fill="#000000" textLength="35.91" lengthAdjust="spacingAndGlyphs" >29 Mai</text>
<text x="432.30" y="1512.80" font-size="11" text-anchor="middle" fill="#000000" textLength="30.00" lengthAdjust="spacingAndGlyphs" >5 Juin</text>
<text x="487.30" y="1512.80" font-size="11" text-anchor="middle" fill="#000000" textLength="36.84" lengthAdjust="spacingAndGlyphs" >12 Juin</text>
<text x="541.30" y="1512.80" font-size="11" text-anchor="middle" fill="#000000" textLength="36.84" lengthAdjust="spacingAndGlyphs" >19 Juin</text>
<text x="596.30" y="1512.80" font-size="11" text-anchor="middle" fill="#000000" textLength="36.84" lengthAdjust="spacingAndGlyphs" >26 Juin</text>
<text x="651.30" y="1512.80" font-size="11" text-anchor="middle" fill="#000000" textLength="26.18" lengthAdjust="spacingAndGlyphs" >3 Juil</text>
<text x="706.30" y="1512.80" font-size="11" text-anchor="middle" fill="#000000" textLength="33.01" lengthAdjust="spacingAndGlyphs" >10 Juil</text>
<text x="760.30" y="1512.80" font-size="11" text-anchor="middle" fill="#000000" textLength="33.01" lengthAdjust="spacingAndGlyphs" >17 Juil</text>
<text x="815.30" y="1512.80" font-size="11" text-anchor="middle" fill="#000000" textLength="33.01" lengthAdjust="spacingAndGlyphs" >24 Juil</text>
<text x="870.30" y="1512.80" font-size="11" text-anchor="middle" fill="#000000" textLength="33.01" lengthAdjust="spacingAndGlyphs" >31 Juil</text>
<text x="924.30" y="1512.80" font-size="11" text-anchor="middle" fill="#000000" textLength="35.00" lengthAdjust="spacingAndGlyphs" >7 Août</text>
<text x="979.30" y="1512.80" font-size="11" text-anchor="middle" fill="#000000" textLength="41.83" lengthAdjust="spacingAndGlyphs" >14 Août</text>
<text x="1034.30" y="1512.80" font-size="11" text-anchor="middle" fill="#000000" textLength="41.83" lengthAdjust="spacingAndGlyphs" >21 Août</text>
<text x="1088.30" y="1512.80" font-size="11" text-anchor="middle" fill="#000000" textLength="41.83" lengthAdjust="spacingAndGlyphs" >28 Août</text>
<text x="1143.30" y="1512.80" font-size="11" text-anchor="middle" fill="#000000" textLength="34.71" lengthAdjust="spacingAndGlyphs" >4 Sept</text>
<text x="624.00" y="1526.80" font-size="11" text-anchor="middle" fill="#000000" textLength="247.50" lengthAdjust="spacingAndGlyphs" >Date (du 23 Avril 2020 au 4 Septembre 2020)</text>
<defs><clipPath id="cp"><rect x="0" y="0" width="1200" height="1441.67"/></clipPath><clipPath id="cn"><rect x="0" y="1441.67" width="1200" height="200"/></clipPath></defs>
<path d="M105.0,1441.67 L105.0,1381.75 C106.92,1381.58 112.75,1383.62 116.50,1380.75 C120.25,1377.88 123.83,1367.88 127.50,1364.50 C131.17,1361.12 134.83,1363.75 138.50,1360.50 C142.17,1357.25 145.83,1346.54 149.50,1345.00 C153.17,1343.46 156.83,1346.46 160.50,1351.25 C164.17,1356.04 167.83,1369.71 171.50,1373.75 C175.17,1377.79 179.00,1373.54 182.50,1375.50 C186.00,1377.46 189.00,1382.67 192.50,1385.50 C196.00,1388.33 199.83,1391.96 203.50,1392.50 C207.17,1393.04 210.83,1388.21 214.50,1388.75 C218.17,1389.29 221.83,1392.62 225.50,1395.75 C229.17,1398.88 232.83,1402.00 236.50,1407.50 C240.17,1413.00 243.83,1422.71 247.50,1428.75 C251.17,1434.79 254.83,1440.12 258.50,1443.75 C262.17,1447.38 265.83,1451.46 269.50,1450.50 C273.17,1449.54 276.83,1439.21 280.50,1438.00 C284.17,1436.79 287.83,1441.67 291.50,1443.25 C295.17,1444.83 298.83,1446.38 302.50,1447.50 C306.17,1448.62 309.83,1449.38 313.50,1450.00 C317.17,1450.62 320.83,1452.17 324.50,1451.25 C328.17,1450.33 331.83,1449.08 335.50,1444.50 C339.17,1439.92 342.83,1430.33 346.50,1423.75 C350.17,1417.17 354.00,1411.04 357.50,1405.00 C361.00,1398.96 364.00,1390.92 367.50,1387.50 C371.00,1384.08 374.83,1385.46 378.50,1384.50 C382.17,1383.54 385.83,1384.58 389.50,1381.75 C393.17,1378.92 396.83,1373.62 400.50,1367.50 C404.17,1361.38 407.83,1349.50 411.50,1345.00 C415.17,1340.50 418.83,1342.58 422.50,1340.50 C426.17,1338.42 429.83,1332.79 433.50,1332.50 C437.17,1332.21 440.83,1335.00 444.50,1338.75 C448.17,1342.50 451.83,1350.21 455.50,1355.00 C459.17,1359.79 462.83,1359.38 466.50,1367.50 C470.17,1375.62 473.83,1393.54 477.50,1403.75 C481.17,1413.96 484.83,1422.08 488.50,1428.75 C492.17,1435.42 495.83,1440.83 499.50,1443.75 C503.17,1446.67 506.83,1445.00 510.50,1446.25 C514.17,1447.50 517.83,1449.38 521.50,1451.25 C525.17,1453.12 529.00,1455.50 532.50,1457.50 C536.00,1459.50 539.00,1461.38 542.50,1463.25 C546.00,1465.12 549.83,1467.54 553.50,1468.75 C557.17,1469.96 560.83,1468.21 564.50,1470.50 C568.17,1472.79 571.83,1479.46 575.50,1482.50 C579.17,1485.54 582.83,1487.38 586.50,1488.75 C590.17,1490.12 593.83,1491.04 597.50,1490.75 C601.17,1490.46 604.83,1487.62 608.50,1487.00 C612.17,1486.38 615.83,1486.58 619.50,1487.00 C623.17,1487.42 626.83,1490.04 630.50,1489.50 C634.17,1488.96 637.83,1485.96 641.50,1483.75 C645.17,1481.54 648.83,1478.54 652.50,1476.25 C656.17,1473.96 659.83,1471.46 663.50,1470.00 C667.17,1468.54 670.83,1468.12 674.50,1467.50 C678.17,1466.88 681.83,1464.67 685.50,1466.25 C689.17,1467.83 692.83,1475.12 696.50,1477.00 C700.17,1478.88 704.00,1477.62 707.50,1477.50 C711.00,1477.38 714.00,1476.17 717.50,1476.25 C721.00,1476.33 724.83,1479.25 728.50,1478.00 C732.17,1476.75 735.83,1470.92 739.50,1468.75 C743.17,1466.58 746.83,1465.83 750.50,1465.00 C754.17,1464.17 757.83,1464.38 761.50,1463.75 C765.17,1463.12 768.83,1463.33 772.50,1461.25 C776.17,1459.17 779.83,1455.12 783.50,1451.25 C787.17,1447.38 790.83,1441.04 794.50,1438.00 C798.17,1434.96 801.83,1433.29 805.50,1433.00 C809.17,1432.71 812.83,1435.58 816.50,1436.25 C820.17,1436.92 823.83,1437.62 827.50,1437.00 C831.17,1436.38 834.83,1434.71 838.50,1432.50 C842.17,1430.29 845.83,1423.75 849.50,1423.75 C853.17,1423.75 856.83,1429.25 860.50,1432.50 C864.17,1435.75 867.83,1440.33 871.50,1443.25 C875.17,1446.17 879.00,1448.38 882.50,1450.00 C886.00,1451.62 889.00,1452.25 892.50,1453.00 C896.00,1453.75 899.83,1454.25 903.50,1454.50 C907.17,1454.75 910.83,1455.33 914.50,1454.50 C918.17,1453.67 921.83,1451.79 925.50,1449.50 C929.17,1447.21 932.83,1444.21 936.50,1440.75 C940.17,1437.29 943.83,1433.25 947.50,1428.75 C951.17,1424.25 954.83,1417.21 958.50,1413.75 C962.17,1410.29 965.83,1408.21 969.50,1408.00 C973.17,1407.79 976.83,1409.88 980.50,1412.50 C984.17,1415.12 987.83,1419.25 991.50,1423.75 C995.17,1428.25 998.83,1434.71 1002.50,1439.50 C1006.17,1444.29 1009.83,1448.04 1013.50,1452.50 C1017.17,1456.96 1020.83,1463.33 1024.50,1466.25 C1028.17,1469.17 1031.83,1471.04 1035.50,1470.00 C1039.17,1468.96 1042.83,1462.42 1046.50,1460.00 C1050.17,1457.58 1054.00,1456.62 1057.50,1455.50 C1061.00,1454.38 1064.00,1453.54 1067.50,1453.25 C1071.00,1452.96 1074.83,1453.88 1078.50,1453.75 C1082.17,1453.62 1085.83,1456.25 1089.50,1452.50 C1093.17,1448.75 1096.83,1435.21 1100.50,1431.25 C1104.17,1427.29 1107.83,1431.04 1111.50,1428.75 C1115.17,1426.46 1118.83,1419.88 1122.50,1417.50 C1126.17,1415.12 1129.75,1413.88 1133.50,1414.50 C1137.25,1415.12 1143.08,1420.12 1145.00,1421.25 L1145.0,1441.67 Z" fill="rgba(0,255,0,0.42)" clip-path="url(#cp)"/>
<path d="M105.0,1441.67 L105.0,1381.75 C106.92,1381.58 112.75,1383.62 116.50,1380.75 C120.25,1377.88 123.83,1367.88 127.50,1364.50 C131.17,1361.12 134.83,1363.75 138.50,1360.50 C142.17,1357.25 145.83,1346.54 149.50,1345.00 C153.17,1343.46 156.83,1346.46 160.50,1351.25 C164.17,1356.04 167.83,1369.71 171.50,1373.75 C175.17,1377.79 179.00,1373.54 182.50,1375.50 C186.00,1377.46 189.00,1382.67 192.50,1385.50 C196.00,1388.33 199.83,1391.96 203.50,1392.50 C207.17,1393.04 210.83,1388.21 214.50,1388.75 C218.17,1389.29 221.83,1392.62 225.50,1395.75 C229.17,1398.88 232.83,1402.00 236.50,1407.50 C240.17,1413.00 243.83,1422.71 247.50,1428.75 C251.17,1434.79 254.83,1440.12 258.50,1443.75 C262.17,1447.38 265.83,1451.46 269.50,1450.50 C273.17,1449.54 276.83,1439.21 280.50,1438.00 C284.17,1436.79 287.83,1441.67 291.50,1443.25 C295.17,1444.83 298.83,1446.38 302.50,1447.50 C306.17,1448.62 309.83,1449.38 313.50,1450.00 C317.17,1450.62 320.83,1452.17 324.50,1451.25 C328.17,1450.33 331.83,1449.08 335.50,1444.50 C339.17,1439.92 342.83,1430.33 346.50,1423.75 C350.17,1417.17 354.00,1411.04 357.50,1405.00 C361.00,1398.96 364.00,1390.92 367.50,1387.50 C371.00,1384.08 374.83,1385.46 378.50,1384.50 C382.17,1383.54 385.83,1384.58 389.50,1381.75 C393.17,1378.92 396.83,1373.62 400.50,1367.50 C404.17,1361.38 407.83,1349.50 411.50,1345.00 C415.17,1340.50 418.83,1342.58 422.50,1340.50 C426.17,1338.42 429.83,1332.79 433.50,1332.50 C437.17,1332.21 440.83,1335.00 444.50,1338.75 C448.17,1342.50 451.83,1350.21 455.50,1355.00 C459.17,1359.79 462.83,1359.38 466.50,1367.50 C470.17,1375.62 473.83,1393.54 477.50,1403.75 C481.17,1413.96 484.83,1422.08 488.50,1428.75 C492.17,1435.42 495.83,1440.83 499.50,1443.75 C503.17,1446.67 506.83,1445.00 510.50,1446.25 C514.17,1447.50 517.83,1449.38 521.50,1451.25 C525.17,1453.12 529.00,1455.50 532.50,1457.50 C536.00,1459.50 539.00,1461.38 542.50,1463.25 C546.00,1465.12 549.83,1467.54 553.50,1468.75 C557.17,1469.96 560.83,1468.21 564.50,1470.50 C568.17,1472.79 571.83,1479.46 575.50,1482.50 C579.17,1485.54 582.83,1487.38 586.50,1488.75 C590.17,1490.12 593.83,1491.04 597.50,1490.75 C601.17,1490.46 604.83,1487.62 608.50,1487.00 C612.17,1486.38 615.83,1486.58 619.50,1487.00 C623.17,1487.42 626.83,1490.04 630.50,1489.50 C634.17,1488.96 637.83,1485.96 641.50,1483.75 C645.17,1481.54 648.83,1478.54 652.50,1476.25 C656.17,1473.96 659.83,1471.46 663.50,1470.00 C667.17,1468.54 670.83,1468.12 674.50,1467.50 C678.17,1466.88 681.83,1464.67 685.50,1466.25 C689.17,1467.83 692.83,1475.12 696.50,1477.00 C700.17,1478.88 704.00,1477.62 707.50,1477.50 C711.00,1477.38 714.00,1476.17 717.50,1476.25 C721.00,1476.33 724.83,1479.25 728.50,1478.00 C732.17,1476.75 735.83,1470.92 739.50,1468.75 C743.17,1466.58 746.83,1465.83 750.50,1465.00 C754.17,1464.17 757.83,1464.38 761.50,1463.75 C765.17,1463.12 768.83,1463.33 772.50,1461.25 C776.17,1459.17 779.83,1455.12 783.50,1451.25 C787.17,1447.38 790.83,1441.04 794.50,1438.00 C798.17,1434.96 801.83,1433.29 805.50,1433.00 C809.17,1432.71 812.83,1435.58 816.50,1436.25 C820.17,1436.92 823.83,1437.62 827.50,1437.00 C831.17,1436.38 834.83,1434.71 838.50,1432.50 C842.17,1430.29 845.83,1423.75 849.50,1423.75 C853.17,1423.75 856.83,1429.25 860.50,1432.50 C864.17,1435.75 867.83,1440.33 871.50,1443.25 C875.17,1446.17 879.00,1448.38 882.50,1450.00 C886.00,1451.62 889.00,1452.25 892.50,1453.00 C896.00,1453.75 899.83,1454.25 903.50,1454.50 C907.17,1454.75 910.83,1455.33 914.50,1454.50 C918.17,1453.67 921.83,1451.79 925.50,1449.50 C929.17,1447.21 932.83,1444.21 936.50,1440.75 C940.17,1437.29 943.83,1433.25 947.50,1428.75 C951.17,1424.25 954.83,1417.21 958.50,1413.75 C962.17,1410.29 965.83,1408.21 969.50,1408.00 C973.17,1407.79 976.83,1409.88 980.50,1412.50 C984.17,1415.12 987.83,1419.25 991.50,1423.75 C995.17,1428.25 998.83,1434.71 1002.50,1439.50 C1006.17,1444.29 1009.83,1448.04 1013.50,1452.50 C1017.17,1456.96 1020.83,1463.33 1024.50,1466.25 C1028.17,1469.17 1031.83,1471.04 1035.50,1470.00 C1039.17,1468.96 1042.83,1462.42 1046.50,1460.00 C1050.17,1457.58 1054.00,1456.62 1057.50,1455.50 C1061.00,1454.38 1064.00,1453.54 1067.50,1453.25 C1071.00,1452.96 1074.83,1453.88 1078.50,1453.75 C1082.17,1453.62 1085.83,1456.25 1089.50,1452.50 C1093.17,1448.75 1096.83,1435.21 1100.50,1431.25 C1104.17,1427.29 1107.83,1431.04 1111.50,1428.75 C1115.17,1426.46 1118.83,1419.88 1122.50,1417.50 C1126.17,1415.12 1129.75,1413.88 1133.50,1414.50 C1137.25,1415.12 1143.08,1420.12 1145.00,1421.25 L1145.0,1441.67 Z" fill="rgba(255,0,0,0.42)" clip-path="url(#cn)"/>
<g shape-rendering="crispEdges" stroke="#1c1c1c" stroke-width="1" fill="none">
<line x1="100.5" y1="1319" x2="100.5" y2="1501"/>
<line x1="98" y1="1500.5" x2="1163" y2="1500.5"/>
<line x1="98" y1="1325.5" x2="103" y2="1325.5"/>
<line x1="98" y1="1354.5" x2="103" y2="1354.5"/>
<line x1="98" y1="1383.5" x2="103" y2="1383.5"/>
<line x1="98" y1="1412.5" x2="103" y2="1412.5"/>
<line x1="98" y1="1441.5" x2="103" y2="1441.5"/>
<line x1="98" y1="1470.5" x2="103" y2="1470.5"/>
<line x1="98" y1="1500.5" x2="103" y2="1500.5"/>
<line x1="105.5" y1="1498" x2="105.5" y2="1503"/>
<line x1="160.5" y1="1498" x2="160.5" y2="1503"/>
<line x1="214.5" y1="1498" x2="214.5" y2="1503"/>
<line x1="269.5" y1="1498" x2="269.5" y2="1503"/>
<line x1="324.5" y1="1498" x2="324.5" y2="1503"/>
<line x1="378.5" y1="1498" x2="378.5" y2="1503"/>
<line x1="433.5" y1="1498" x2="433.5" y2="1503"/>
<line x1="488.5" y1="1498" x2="488.5" y2="1503"/>
<line x1="542.5" y1="1498" x2="542.5" y2="1503"/>
<line x1="597.5" y1="1498" x2="597.5" y2="1503"/>
<line x1="652.5" y1="1498" x2="652.5" y2="1503"/>
<line x1="707.5" y1="1498" x2="707.5" y2="1503"/>
<line x1="761.5" y1="1498" x2="761.5" y2="1503"/>
<line x1="816.5" y1="1498" x2="816.5" y2="1503"/>
<line x1="871.5" y1="1498" x2="871.5" y2="1503"/>
<line x1="925.5" y1="1498" x2="925.5" y2="1503"/>
<line x1="980.5" y1="1498" x2="980.5" y2="1503"/>
<line x1="1035.5" y1="1498" x2="1035.5" y2="1503"/>
<line x1="1089.5" y1="1498" x2="1089.5" y2="1503"/>
<line x1="1144.5" y1="1498" x2="1144.5" y2="1503"/>
</g>
<g shape-rendering="crispEdges" stroke="#d8d8d8" stroke-width="1">
<line x1="116.5" y1="1501" x2="116.5" y2="1503"/>
<line x1="127.5" y1="1501" x2="127.5" y2="1503"/>
<line x1="138.5" y1="1501" x2="138.5" y2="1503"/>
<line x1="149.5" y1="1501" x2="149.5" y2="1503"/>
<line x1="171.5" y1="1501" x2="171.5" y2="1503"/>
<line x1="182.5" y1="1501" x2="182.5" y2="1503"/>
<line x1="192.5" y1="1501" x2="192.5" y2="1503"/>
<line x1="203.5" y1="1501" x2="203.5" y2="1503"/>
<line x1="225.5" y1="1501" x2="225.5" y2="1503"/>
<line x1="236.5" y1="1501" x2="236.5" y2="1503"/>
<line x1="247.5" y1="1501" x2="247.5" y2="1503"/>
<line x1="258.5" y1="1501" x2="258.5" y2="1503"/>
<line x1="280.5" y1="1501" x2="280.5" y2="1503"/>
<line x1="291.5" y1="1501" x2="291.5" y2="1503"/>
<line x1="302.5" y1="1501" x2="302.5" y2="1503"/>
<line x1="313.5" y1="1501" x2="313.5" y2="1503"/>
<line x1="335.5" y1="1501" x2="335.5" y2="1503"/>
<line x1="346.5" y1="1501" x2="346.5" y2="1503"/>
<line x1="357.5" y1="1501" x2="357.5" y2="1503"/>
<line x1="367.5" y1="1501" x2="367.5" y2="1503"/>
<line x1="389.5" y1="1501" x2="389.5" y2="1503"/>
<line x1="400.5" y1="1501" x2="400.5" y2="1503"/>
<line x1="411.5" y1="1501" x2="411.5" y2="1503"/>
<line x1="422.5" y1="1501" x2="422.5" y2="1503"/>
<line x1="444.5" y1="1501" x2="444.5" y2="1503"/>
<line x1="455.5" y1="1501" x2="455.5" y2="1503"/>
<line x1="466.5" y1="1501" x2="466.5" y2="1503"/>
<line x1="477.5" y1="1501" x2="477.5" y2="1503"/>
<line x1="499.5" y1="1501" x2="499.5" y2="1503"/>
<line x1="510.5" y1="1501" x2="510.5" y2="1503"/>
<line x1="521.5" y1="1501" x2="521.5" y2="1503"/>
<line x1="532.5" y1="1501" x2="532.5" y2="1503"/>
<line x1="553.5" y1="1501" x2="553.5" y2="1503"/>
<line x1="564.5" y1="1501" x2="564.5" y2="1503"/>
<line x1="575.5" y1="1501" x2="575.5" y2="1503"/>
<line x1="586.5" y1="1501" x2="586.5" y2="1503"/>
<line x1="608.5" y1="1501" x2="608.5" y2="1503"/>
<line x1="619.5" y1="1501" x2="619.5" y2="1503"/>
<line x1="630.5" y1="1501" x2="630.5" y2="1503"/>
<line x1="641.5" y1="1501" x2="641.5" y2="1503"/>
<line x1="663.5" y1="1501" x2="663.5" y2="1503"/>
<line x1="674.5" y1="1501" x2="674.5" y2="1503"/>
<line x1="685.5" y1="1501" x2="685.5" y2="1503"/>
<line x1="696.5" y1="1501" x2="696.5" y2="1503"/>
<line x1="717.5" y1="1501" x2="717.5" y2="1503"/>
<line x1="728.5" y1="1501" x2="728.5" y2="1503"/>
<line x1="739.5" y1="1501" x2="739.5" y2="1503"/>
<line x1="750.5" y1="1501" x2="750.5" y2="1503"/>
<line x1="772.5" y1="1501" x2="772.5" y2="1503"/>
<line x1="783.5" y1="1501" x2="783.5" y2="1503"/>
<line x1="794.5" y1="1501" x2="794.5" y2="1503"/>
<line x1="805.5" y1="1501" x2="805.5" y2="1503"/>
<line x1="827.5" y1="1501" x2="827.5" y2="1503"/>
<line x1="838.5" y1="1501" x2="838.5" y2="1503"/>
<line x1="849.5" y1="1501" x2="849.5" y2="1503"/>
<line x1="860.5" y1="1501" x2="860.5" y2="1503"/>
<line x1="882.5" y1="1501" x2="882.5" y2="1503"/>
<line x1="892.5" y1="1501" x2="892.5" y2="1503"/>
<line x1="903.5" y1="1501" x2="903.5" y2="1503"/>
<line x1="914.5" y1="1501" x2="914.5" y2="1503"/>
<line x1="936.5" y1="1501" x2="936.5" y2="1503"/>
<line x1="947.5" y1="1501" x2="947.5" y2="1503"/>
<line x1="958.5" y1="1501" x2="958.5" y2="1503"/>
<line x1="969.5" y1="1501" x2="969.5" y2="1503"/>
<line x1="991.5" y1="1501" x2="991.5" y2="1503"/>
<line x1="1002.5" y1="1501" x2="1002.5" y2="1503"/>
<line x1="1013.5" y1="1501" x2="1013.5" y2="1503"/>
<line x1="1024.5" y1="1501" x2="1024.5" y2="1503"/>
<line x1="1046.5" y1="1501" x2="1046.5" y2="1503"/>
<line x1="1057.5" y1="1501" x2="1057.5" y2="1503"/>
<line x1="1067.5" y1="1501" x2="1067.5" y2="1503"/>
<line x1="1078.5" y1="1501" x2="1078.5" y2="1503"/>
<line x1="1100.5" y1="1501" x2="1100.5" y2="1503"/>
<line x1="1111.5" y1="1501" x2="1111.5" y2="1503"/>
<line x1="1122.5" y1="1501" x2="1122.5" y2="1503"/>
<line x1="1133.5" y1="1501" x2="1133.5" y2="1503"/>
</g>
<path d="M100.5 1312 L104.2 1320 L96.8 1320 Z" fill="#1c1c1c"/>
<path d="M1162.5 1500.5 L1156 1497.0 L1156 1504.0 Z" fill="#1c1c1c"/>
</svg>
</body></html>
